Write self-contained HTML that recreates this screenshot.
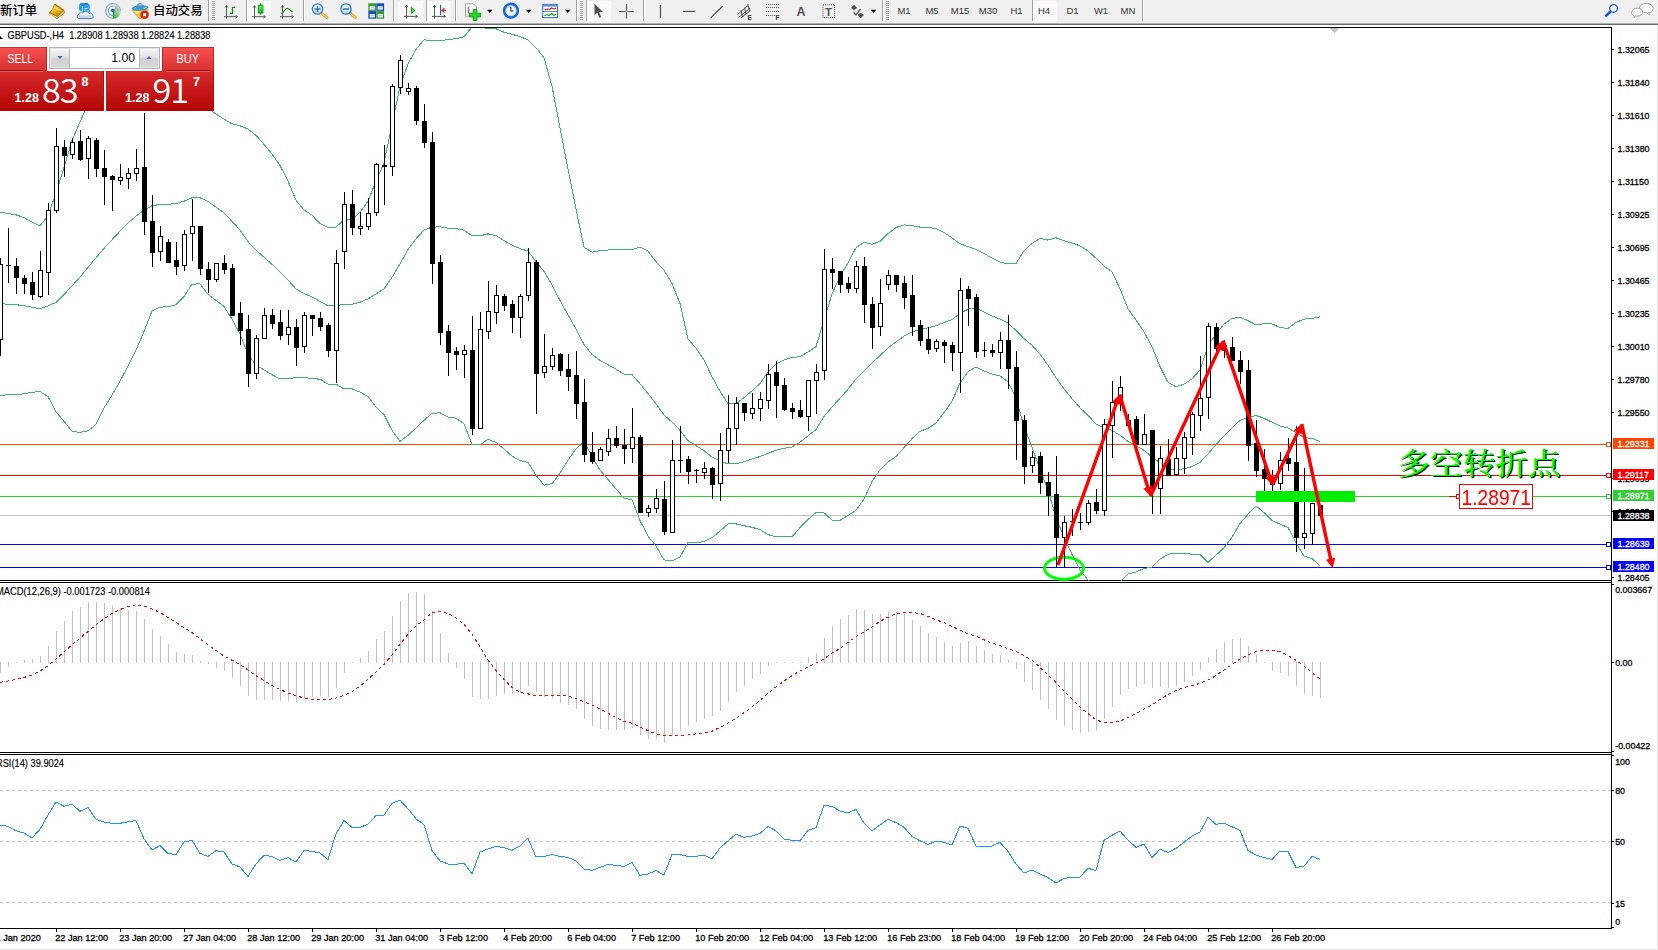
<!DOCTYPE html>
<html><head><meta charset="utf-8"><title>GBPUSD H4</title>
<style>
html,body{margin:0;padding:0;background:#fff;}
body{width:1658px;height:950px;overflow:hidden;position:relative;font-family:"Liberation Sans","Noto Sans CJK SC",sans-serif;}
#tb{position:absolute;left:0;top:0;width:1658px;height:23px;background:#f0f0f0;border-bottom:1px solid #b0b0b0;}
#tb2{position:absolute;left:0;top:24px;width:1658px;height:1px;background:#696969;}
#tb .t{position:absolute;top:3.6px;font-size:12.4px;font-weight:500;line-height:14px;color:#000;white-space:nowrap;font-family:"Liberation Sans","Noto Sans CJK SC",sans-serif;}
#tb .sep{position:absolute;top:0px;width:1px;height:21px;background:#a0a0a0;border-right:1px solid #fff;}
#tb .grip{position:absolute;top:1px;width:3px;height:20px;background:repeating-linear-gradient(#a0a0a0 0 1px,#f0f0f0 1px 2px);}
#tb .prs{position:absolute;top:1px;height:21px;background:#f9f9f9;box-sizing:border-box;}
#tb .tf{position:absolute;top:5px;font-size:9.5px;line-height:12px;color:#333;width:28px;text-align:center;}
#tb svg{position:absolute;top:0;left:0;}
#trade{position:absolute;left:0;top:47px;width:214px;height:64px;}
#trade div{position:absolute;box-sizing:border-box;}
.rb{background:linear-gradient(#f65050,#d83030);color:#fff;font-size:12.5px;text-align:center;line-height:24px;}
.pp{background:linear-gradient(#d62a2a,#b40404);color:#fff;}
.pp span{position:absolute;white-space:nowrap;}
.pp .big{font-family:"Noto Sans CJK SC","Liberation Sans",sans-serif;font-weight:350;font-size:34.3px;line-height:50px;letter-spacing:-1.2px;}
</style></head><body>
<div id="tb">
<div class="prs" style="left:247px;width:24px;"></div>
<div class="prs" style="left:398px;width:25px;"></div>
<div class="prs" style="left:427px;width:24px;"></div>
<div class="prs" style="left:587px;width:24px;"></div>
<div class="prs" style="left:1033px;width:24px;"></div>
<div class="sep" style="left:208px;"></div><div class="grip" style="left:212px;"></div>
<div class="sep" style="left:246px;"></div>
<div class="sep" style="left:303px;"></div>
<div class="sep" style="left:393px;"></div>
<div class="sep" style="left:426px;"></div>
<div class="sep" style="left:455px;"></div>
<div class="sep" style="left:576px;"></div><div class="grip" style="left:580px;"></div>
<div class="sep" style="left:586px;"></div>
<div class="sep" style="left:643px;"></div>
<div class="sep" style="left:882px;"></div><div class="grip" style="left:886px;"></div>
<div class="sep" style="left:1032px;"></div>
<div class="sep" style="left:1142px;"></div>
<span class="t" style="left:0px;">新订单</span>
<span class="t" style="left:153px;">自动交易</span>
<span class="tf" style="left:890px;">M1</span><span class="tf" style="left:918px;">M5</span><span class="tf" style="left:946px;">M15</span><span class="tf" style="left:974px;">M30</span><span class="tf" style="left:1002.5px;">H1</span><span class="tf" style="left:1030px;">H4</span><span class="tf" style="left:1058.5px;">D1</span><span class="tf" style="left:1087px;">W1</span><span class="tf" style="left:1114px;">MN</span>
<svg width="1658" height="23" viewBox="0 0 1658 23">
<defs>
<linearGradient id="gold" x1="0" y1="0" x2="1" y2="1"><stop offset="0" stop-color="#ffe25a"/><stop offset=".5" stop-color="#e8b418"/><stop offset="1" stop-color="#a86c00"/></linearGradient>
<linearGradient id="grn" x1="0" y1="0" x2="0" y2="1"><stop offset="0" stop-color="#70ff70"/><stop offset="1" stop-color="#10b020"/></linearGradient>
<linearGradient id="cloud" x1="0" y1="0" x2="0" y2="1"><stop offset="0" stop-color="#ffffff"/><stop offset="1" stop-color="#b8cce8"/></linearGradient>
<radialGradient id="lens" cx=".4" cy=".35" r=".7"><stop offset="0" stop-color="#f4fbff"/><stop offset="1" stop-color="#b4d8f4"/></radialGradient>
<linearGradient id="hat" x1="0" y1="0" x2="0" y2="1"><stop offset="0" stop-color="#8cc8f0"/><stop offset="1" stop-color="#3c84c8"/></linearGradient>
<linearGradient id="yel" x1="0" y1="0" x2="0" y2="1"><stop offset="0" stop-color="#fff080"/><stop offset="1" stop-color="#e8b020"/></linearGradient>
</defs>
<!-- gold tag -->
<path d="M54,4 L55.6,4 L64.2,10 L64.9,12.9 L57,19 L48.7,13 L52.6,8.8 Z" fill="#a86a04"/>
<path d="M57.6,16.4 L63.6,10.8 L64.3,12.8 L57,18.4 Z" fill="#d8c48c"/>
<path d="M49.5,12.9 L57.3,17 L57,18.4 L49.3,13.6 Z" fill="#f6dc70"/>
<path d="M54.6,5 L63.3,10.5 L57.5,16 L50.3,11.9 C52.6,10 53.6,7.6 54.6,5 Z" fill="url(#gold)"/>
<path d="M55,6.2 L61.5,10.4 L60.2,11.6 L54.3,8 Z" fill="#fff3a0" opacity=".55"/>
<!-- server + cloud -->
<path d="M79.1,4.4 L82.4,6.4 L82.4,11.6 L79.1,10.2 Z" fill="#00a4ff"/>
<path d="M79.1,4.2 L80.6,3.2 L87,3.1 L89.6,4.6 L82.4,6.2 Z" fill="#1a7ae4"/>
<path d="M82.6,6.3 L89.7,4.7 L89.7,12 L82.6,12 Z" fill="#1e94ff"/>
<path d="M82.5,6.2 L82.5,12" stroke="#e8f6ff" stroke-width=".7"/>
<path d="M84.2,8.6 L88.6,7.5 L88.6,8.5 L84.2,9.4 Z" fill="#eaf6ff"/>
<rect x="84" y="10" width="5" height="2" fill="#66bcff"/>
<path d="M79.3,18.6 C76.6,18.6 76.4,14.9 79,14.2 C79,12.4 81.6,11.7 82.8,13.1 C84,10.6 88.4,10.8 89.2,13.6 C90.6,12.4 93,13.4 92.6,15.2 C94,16.4 93,18.6 91.3,18.6 Z" fill="url(#cloud)" stroke="#4c6cac" stroke-width=".9"/>
<!-- signal -->
<defs><linearGradient id="sg" x1="1" y1="0" x2="0.35" y2="1"><stop offset="0" stop-color="#dcead8"/><stop offset=".6" stop-color="#8cc48c"/><stop offset="1" stop-color="#2ea42e"/></linearGradient></defs>
<path d="M113.5,10.8 L113.5,18.7 A7.9,7.9 0 0 0 116.5,3.8 Z" fill="url(#sg)" opacity=".8"/>
<g fill="none" stroke="#5682dc" stroke-width="1.1"><path d="M113,18.2 A7.4,7.4 0 0 1 113,3.4" opacity=".7"/><path d="M113,15.4 A4.6,4.6 0 0 1 113,6.2" opacity=".8"/></g>
<g fill="none" stroke="#6a94c4" stroke-width="1" opacity=".55"><path d="M113,3.4 A7.4,7.4 0 0 1 120.4,10.8"/><path d="M113,6.2 A4.6,4.6 0 0 1 117.6,10.8"/></g>
<circle cx="112.7" cy="10.5" r="1.8" fill="#2456d4"/>
<rect x="113" y="11" width="1.1" height="7.7" fill="#1ea51e"/>
<!-- autotrading -->
<path d="M132.2,10.4 L148,9.4 L141.4,18.6 L139.4,18.6 Z" fill="url(#yel)" stroke="#c89412" stroke-width=".7"/>
<ellipse cx="140.1" cy="8" rx="7.9" ry="2.2" fill="#4ea4dc" stroke="#2484b4" stroke-width=".8" transform="rotate(-5 140.1 8)"/>
<path d="M136.7,7.6 C136.4,2.4 143,2.2 143,7 C141.4,8.4 138.2,8.6 136.7,7.6 Z" fill="url(#hat)" stroke="#2484b4" stroke-width=".7"/>
<path d="M144,8.3 L147,6.9" stroke="#c8e8fa" stroke-width=".8"/>
<circle cx="144.6" cy="14.7" r="4" fill="#e42408" stroke="#b81800" stroke-width=".5"/><rect x="143.1" y="13.2" width="3" height="3" fill="#fff"/>
<!-- chart type icons -->
<g stroke="#585858" stroke-width="1" fill="none">
<path d="M226.5,6 L226.5,18.5 M224,16.7 L237,16.7"/><path d="M225.2,7.6 L226.5,5.6 L227.8,7.6 M235.6,15.4 L237.6,16.7 L235.6,18" stroke-width="1"/>
<path d="M254.5,6 L254.5,18.5 M252,16.7 L265,16.7"/><path d="M253.2,7.6 L254.5,5.6 L255.8,7.6 M263.6,15.4 L265.6,16.7 L263.6,18" stroke-width="1"/>
<path d="M282.5,6 L282.5,18.5 M280,16.7 L293,16.7"/><path d="M281.2,7.6 L282.5,5.6 L283.8,7.6 M291.6,15.4 L293.6,16.7 L291.6,18" stroke-width="1"/>
<path d="M406.5,5.5 L406.5,18.5 M404,16.4 L417,16.4"/><path d="M405.2,7.1 L406.5,5.1 L407.8,7.1 M415.6,15.1 L417.6,16.4 L415.6,17.7" stroke-width="1"/>
<path d="M434.5,5.5 L434.5,18.5 M432,16.4 L445,16.4"/><path d="M433.2,7.1 L434.5,5.1 L435.8,7.1 M443.6,15.1 L445.6,16.4 L443.6,17.7" stroke-width="1"/>
</g>
<path d="M232.5,6.9 L232.5,13.8 M232.5,7.3 L235,7.3 M230,13.4 L232.5,13.4" stroke="#1a8a1a" stroke-width="1.3" fill="none"/>
<path d="M260.6,3.3 L260.6,14.6" stroke="#0a900a" stroke-width="1.2"/><rect x="258.4" y="5.2" width="4.5" height="7.8" fill="url(#grn)" stroke="#0a900a" stroke-width=".9"/>
<path d="M281.3,13.5 C284,12.5 285.5,8.3 287.3,8.3 C289,8.3 290.5,11.3 292.8,12" stroke="#1a8a1a" stroke-width="1.2" fill="none"/>
<!-- zoom in/out -->
<path d="M321.5,13 L326.8,17.6" stroke="#d8b030" stroke-width="3" stroke-linecap="round"/><path d="M321.5,13 L326.8,17.6" stroke="#f8e080" stroke-width="1" stroke-linecap="round"/>
<circle cx="317.5" cy="9" r="5.2" fill="url(#lens)" stroke="#3a7cc8" stroke-width="1.3"/><path d="M314.5,9 L320.5,9 M317.5,6 L317.5,12" stroke="#3a80b0" stroke-width="1.6"/>
<path d="M350,13 L355.3,17.6" stroke="#d8b030" stroke-width="3" stroke-linecap="round"/><path d="M350,13 L355.3,17.6" stroke="#f8e080" stroke-width="1" stroke-linecap="round"/>
<circle cx="346" cy="9" r="5.2" fill="url(#lens)" stroke="#3a7cc8" stroke-width="1.3"/><path d="M343,9 L349,9" stroke="#3a80b0" stroke-width="1.6"/>
<!-- tile -->
<rect x="368.3" y="3.3" width="7.8" height="7.6" fill="#3a9a20"/><rect x="376.3" y="3.3" width="7.8" height="7.6" fill="#1848c0"/>
<rect x="368.3" y="11.1" width="7.8" height="7.6" fill="#1848c0"/><rect x="376.3" y="11.1" width="7.8" height="7.6" fill="#3a9a20"/>
<g fill="#eef4ff"><rect x="369.6" y="6.2" width="5.2" height="3.5"/><rect x="377.6" y="6.2" width="5.2" height="3.5"/><rect x="369.6" y="14" width="5.2" height="3.5"/><rect x="377.6" y="14" width="5.2" height="3.5"/></g>
<g fill="#90b0e0" opacity=".8"><rect x="370.6" y="7.4" width="3.2" height=".9"/><rect x="378.6" y="7.4" width="3.2" height=".9"/><rect x="370.6" y="15.2" width="3.2" height=".9"/><rect x="378.6" y="15.2" width="3.2" height=".9"/></g>
<!-- autoscroll / shift -->
<path d="M411.3,7.3 L411.3,13.5 L415,10.4 Z" fill="#50e060" stroke="#0a900a" stroke-width=".9"/>
<path d="M440.6,4.8 L440.6,15" stroke="#1a70a8" stroke-width="1.2"/><path d="M441.8,10.4 L446,10.4 M444.5,8.3 L441.9,10.4 L444.5,12.5" stroke="#d03010" stroke-width="1.2" fill="none"/>
<!-- indicators -->
<path d="M465.5,3.8 L473.5,3.8 L476.5,6.8 L476.5,16.2 L465.5,16.2 Z" fill="#fdfdfd" stroke="#909090" stroke-width=".8"/>
<path d="M469.5,7 L468.3,7 L468.3,13 L469.5,13 M468.3,10 L469.5,10" stroke="#404040" stroke-width=".8" fill="none"/>
<path d="M473.2,9.4 L476.9,9.4 L476.9,13.2 L480.6,13.2 L480.6,16.9 L476.9,16.9 L476.9,20.6 L473.2,20.6 L473.2,16.9 L469.4,16.9 L469.4,13.2 L473.2,13.2 Z" fill="#28d828" stroke="#0a8a0a" stroke-width=".8"/>
<path d="M487,9.8 L492.4,9.8 L489.7,13 Z" fill="#000"/>
<!-- clock -->
<circle cx="511" cy="10.7" r="6.8" fill="#fff" stroke="#1468d8" stroke-width="2.6"/><circle cx="511" cy="10.7" r="5.2" fill="#f4f8ff" stroke="#80a8e8" stroke-width=".6"/>
<path d="M510.8,6.8 L510.8,11 L513.6,11" stroke="#303030" stroke-width="1.1" fill="none"/>
<path d="M526,9.8 L531.4,9.8 L528.7,13 Z" fill="#000"/>
<!-- template -->
<rect x="542.8" y="4.4" width="14.8" height="13.2" fill="#fff" stroke="#3068c0" stroke-width="1"/><rect x="542.8" y="4.4" width="14.8" height="2.2" fill="#5890e0"/><rect x="542.8" y="11" width="14.8" height="1" fill="#5890e0"/>
<path d="M544.5,10 L547,9 L549.5,9.5 L551.5,8 L554,9 L556,8" stroke="#c02010" stroke-width="1.1" fill="none"/>
<path d="M544.5,15.8 L547,14.5 L549,15.5 L551.5,13.5 L554,15.3 L556,14.2" stroke="#109020" stroke-width="1.1" fill="none"/>
<path d="M565,9.8 L570.4,9.8 L567.7,13 Z" fill="#000"/>
<!-- cursor -->
<path d="M594.5,3.8 L594.5,15.3 L597.2,12.8 L599.3,17.8 L601.2,17 L599.2,12.2 L603,12 Z" fill="#505050"/>
<!-- crosshair -->
<path d="M626.5,4.2 L626.5,10.4 M626.5,12.4 L626.5,18.6 M619.2,11.5 L625.5,11.5 M627.5,11.5 L633.8,11.5" stroke="#505050" stroke-width="1"/>
<path d="M660.5,4.8 L660.5,17.9" stroke="#505050" stroke-width="1.2"/>
<path d="M683.2,11.4 L694.8,11.4" stroke="#505050" stroke-width="1.2"/>
<path d="M710.7,17.9 L722.8,6" stroke="#505050" stroke-width="1.2"/>
<!-- channel -->
<g stroke="#505050" stroke-width="1" fill="none"><path d="M737.5,14.5 L748,5.5 M738.5,17.5 L750,8 M741,18 L750.5,10.5"/><path d="M741,10 L742.5,17 M744.5,7.5 L746,14.5 M748,4 L749.5,11"/></g>
<text x="747.6" y="19.9" font-size="6.5" font-weight="bold" fill="#303030" font-family="Liberation Sans, sans-serif">E</text>
<!-- fibo -->
<g stroke="#505050" stroke-width="1" stroke-dasharray="1 1"><path d="M766,4.5 L779,4.5 M766,7.5 L779,7.5 M766,11.5 L779,11.5 M766,15.5 L775,15.5"/></g>
<text x="775.6" y="19.9" font-size="6.5" font-weight="bold" fill="#303030" font-family="Liberation Sans, sans-serif">F</text>
<text x="796.6" y="16" font-size="12.5" font-weight="bold" fill="#505050" font-family="Liberation Sans, sans-serif">A</text>
<rect x="823" y="4.8" width="11.6" height="12.8" fill="none" stroke="#505050" stroke-width="1" stroke-dasharray="1 1"/>
<text x="825" y="15.8" font-size="11.5" font-weight="bold" fill="#505050" font-family="Liberation Sans, sans-serif">T</text>
<!-- arrows -->
<path d="M854,4.8 L857,8 L854,10.2 L851,8 Z M860.7,18.2 L857.5,15 L860.7,12.8 L864,15 Z" fill="#505050"/><path d="M853.5,12.5 L856,14.8 L860.5,9" stroke="#505050" stroke-width="1.3" fill="none"/>
<path d="M870.8,9.8 L876.2,9.8 L873.5,13 Z" fill="#000"/>
<!-- search -->
<path d="M1610.3,11.7 L1606.2,15.6" stroke="#1850c8" stroke-width="2.6" stroke-linecap="round"/>
<circle cx="1613.6" cy="8.4" r="3.8" fill="#f8f8ff" stroke="#2060d8" stroke-width="1.4"/>
<!-- chat -->
<path d="M1646.2,3.4 C1655,3.4 1655,12.6 1648.5,12.6 L1649.6,14.8 L1646.5,12.7 C1637.5,12.6 1637.5,3.4 1646.2,3.4 Z" fill="#fafafa" stroke="#909090" stroke-width=".8"/>
<path d="M1637.4,8.2 C1644.2,8.2 1644.2,16 1637.8,16 L1635,16 L1634.4,17.8 L1633.6,15.6 C1630.6,14.6 1630.8,8.2 1637.4,8.2 Z" fill="#fafafa" stroke="#909090" stroke-width=".8"/>
</svg>
</div>
<div id="tb2"></div>
<svg width="1658" height="926" viewBox="0 24 1658 926" style="position:absolute;left:0;top:24px" font-family="Liberation Sans, sans-serif">
<defs><clipPath id="cm"><rect x="0" y="28" width="1611" height="553"/></clipPath></defs>
<g shape-rendering="crispEdges">
<rect x="0" y="27" width="1612" height="1" fill="#000"/>
<rect x="1611" y="27" width="1" height="902" fill="#000"/>
<rect x="0" y="580" width="1612" height="1" fill="#000"/>
<rect x="0" y="582" width="1612" height="1" fill="#000"/>
<rect x="0" y="752" width="1612" height="1" fill="#000"/>
<rect x="0" y="754" width="1612" height="1" fill="#000"/>
<rect x="0" y="928" width="1612" height="1" fill="#000"/>
<rect x="1657" y="25" width="1" height="925" fill="#e4e4e4"/>
<rect x="0" y="949" width="1658" height="1" fill="#e6e6e6"/>
</g>
<g clip-path="url(#cm)">
<g shape-rendering="crispEdges">
<rect x="0" y="444" width="1611" height="1" fill="#ff4500"/>
<rect x="0" y="475" width="1611" height="1" fill="#ff0000"/>
<rect x="0" y="496" width="1611" height="1" fill="#32cd32"/>
<rect x="0" y="515" width="1611" height="1" fill="#c0c0c0"/>
<rect x="0" y="544" width="1611" height="1" fill="#0000ff"/>
<rect x="0" y="567" width="1611" height="1" fill="#0000ff"/>
</g>
<ellipse cx="1064" cy="568.3" rx="19.5" ry="11" fill="none" stroke="#00ff00" stroke-width="3"/>
<g shape-rendering="crispEdges">
<polyline points="0.0,212.2 8.0,213.5 16.0,214.8 24.0,217.6 32.0,222.2 40.0,226.0 48.0,215.4 56.0,193.2 64.0,167.5 72.0,140.6 80.0,121.9 88.0,104.1 96.0,91.0 104.0,88.7 112.0,84.4 120.0,81.0 128.0,80.0 136.0,82.3 144.0,88.8 152.0,100.6 160.0,101.6 168.0,101.8 176.0,102.7 184.0,105.9 192.0,110.3 200.0,110.3 208.0,108.2 216.0,114.0 224.0,119.1 232.0,123.8 240.0,125.8 248.0,129.0 256.0,135.4 264.0,144.3 272.0,154.0 280.0,165.5 288.0,181.1 296.0,200.3 304.0,210.1 312.0,215.1 320.0,223.7 328.0,227.6 336.0,227.2 344.0,219.5 352.0,219.8 360.0,212.2 368.0,201.3 376.0,180.8 384.0,163.0 392.0,124.5 400.0,86.3 408.0,63.9 416.0,49.5 424.0,39.8 432.0,40.8 440.0,41.0 448.0,39.3 456.0,38.8 464.0,36.8 472.0,27.0 480.0,26.9 488.0,28.5 496.0,28.8 504.0,32.2 512.0,34.2 520.0,36.7 528.0,39.7 536.0,47.8 544.0,57.8 552.0,86.3 560.0,127.7 568.0,169.4 576.0,209.2 584.0,247.2 592.0,252.2 600.0,250.7 608.0,250.0 616.0,249.6 624.0,250.0 632.0,249.6 640.0,247.1 648.0,251.0 656.0,261.7 664.0,270.2 672.0,283.4 680.0,303.4 688.0,339.0 696.0,348.2 704.0,359.9 712.0,376.7 720.0,391.3 728.0,403.8 736.0,403.8 744.0,397.7 752.0,390.8 760.0,383.5 768.0,372.0 776.0,363.9 784.0,360.0 792.0,357.3 800.0,356.8 808.0,352.0 816.0,346.6 824.0,320.1 832.0,294.1 840.0,276.2 848.0,262.9 856.0,247.7 864.0,242.4 872.0,244.3 880.0,241.4 888.0,233.7 896.0,227.5 904.0,224.9 912.0,225.7 920.0,227.1 928.0,227.4 936.0,228.5 944.0,232.5 952.0,237.8 960.0,243.8 968.0,246.6 976.0,249.3 984.0,253.4 992.0,258.2 1000.0,262.0 1008.0,264.0 1016.0,263.6 1024.0,250.7 1032.0,243.5 1040.0,238.4 1048.0,240.1 1056.0,237.8 1064.0,240.8 1072.0,243.0 1080.0,245.9 1088.0,250.9 1096.0,258.2 1104.0,266.1 1112.0,271.9 1120.0,288.7 1128.0,308.7 1136.0,320.0 1144.0,331.8 1152.0,346.7 1160.0,366.6 1168.0,382.3 1176.0,386.8 1184.0,384.2 1192.0,378.9 1200.0,370.1 1208.0,345.7 1216.0,334.0 1224.0,324.1 1232.0,318.5 1240.0,317.2 1248.0,320.7 1256.0,324.9 1264.0,323.7 1272.0,323.9 1280.0,327.6 1288.0,328.5 1296.0,322.5 1304.0,319.1 1312.0,318.4 1320.0,316.8" fill="none" stroke="#3cb371" stroke-width="1" />
<polyline points="0.0,303.7 8.0,304.2 16.0,304.7 24.0,305.7 32.0,307.2 40.0,308.8 48.0,305.9 56.0,302.4 64.0,294.5 72.0,285.9 80.0,277.2 88.0,267.4 96.0,257.7 104.0,248.4 112.0,239.8 120.0,231.2 128.0,223.0 136.0,216.1 144.0,210.2 152.0,205.8 160.0,204.4 168.0,204.2 176.0,203.7 184.0,201.2 192.0,197.8 200.0,197.8 208.0,201.3 216.0,207.1 224.0,212.8 232.0,221.4 240.0,230.0 248.0,241.7 256.0,250.2 264.0,257.2 272.0,264.3 280.0,272.2 288.0,280.0 296.0,288.9 304.0,293.6 312.0,296.9 320.0,301.4 328.0,305.8 336.0,305.7 344.0,304.2 352.0,304.3 360.0,302.2 368.0,298.9 376.0,293.9 384.0,288.8 392.0,277.4 400.0,263.9 408.0,249.6 416.0,238.8 424.0,230.1 432.0,227.1 440.0,226.9 448.0,228.2 456.0,228.5 464.0,230.3 472.0,235.7 480.0,235.9 488.0,233.9 496.0,235.6 504.0,240.6 512.0,245.1 520.0,248.6 528.0,251.1 536.0,261.5 544.0,271.5 552.0,285.0 560.0,300.5 568.0,314.8 576.0,328.9 584.0,344.5 592.0,354.5 600.0,360.3 608.0,364.7 616.0,369.2 624.0,374.1 632.0,374.6 640.0,383.8 648.0,393.6 656.0,403.8 664.0,415.0 672.0,422.1 680.0,430.3 688.0,440.7 696.0,445.6 704.0,450.7 712.0,457.1 720.0,461.2 728.0,463.8 736.0,463.8 744.0,461.7 752.0,459.1 760.0,456.5 768.0,453.3 776.0,450.3 784.0,448.4 792.0,447.0 800.0,442.2 808.0,435.8 816.0,429.5 824.0,416.5 832.0,407.1 840.0,398.3 848.0,389.2 856.0,379.0 864.0,370.8 872.0,362.9 880.0,355.6 888.0,347.9 896.0,342.0 904.0,336.2 912.0,332.1 920.0,329.2 928.0,327.9 936.0,325.7 944.0,322.6 952.0,319.6 960.0,313.3 968.0,309.2 976.0,308.1 984.0,312.1 992.0,316.1 1000.0,318.9 1008.0,322.9 1016.0,330.6 1024.0,338.7 1032.0,345.2 1040.0,354.1 1048.0,365.1 1056.0,377.7 1064.0,389.0 1072.0,398.7 1080.0,407.8 1088.0,415.5 1096.0,423.9 1104.0,427.9 1112.0,430.4 1120.0,435.2 1128.0,441.3 1136.0,446.0 1144.0,450.2 1152.0,457.0 1160.0,462.9 1168.0,468.2 1176.0,470.1 1184.0,468.7 1192.0,466.6 1200.0,462.4 1208.0,454.0 1216.0,444.6 1224.0,435.9 1232.0,427.9 1240.0,420.4 1248.0,417.5 1256.0,415.5 1264.0,418.2 1272.0,422.2 1280.0,425.9 1288.0,428.0 1296.0,432.6 1304.0,437.6 1312.0,438.4 1320.0,441.3" fill="none" stroke="#3cb371" stroke-width="1" />
<polyline points="0.0,395.2 8.0,394.9 16.0,394.6 24.0,393.8 32.0,392.3 40.0,391.6 48.0,396.5 56.0,411.7 64.0,421.4 72.0,431.2 80.0,432.5 88.0,430.7 96.0,424.4 104.0,408.0 112.0,395.1 120.0,381.3 128.0,366.0 136.0,350.0 144.0,331.6 152.0,311.0 160.0,307.2 168.0,306.7 176.0,304.7 184.0,296.6 192.0,284.1 200.0,283.9 208.0,294.3 216.0,300.3 224.0,306.5 232.0,319.1 240.0,334.2 248.0,354.4 256.0,365.1 264.0,370.0 272.0,374.7 280.0,378.9 288.0,378.8 296.0,377.5 304.0,377.1 312.0,378.8 320.0,379.1 328.0,384.1 336.0,384.2 344.0,388.9 352.0,388.8 360.0,392.1 368.0,396.5 376.0,407.1 384.0,414.6 392.0,430.3 400.0,441.4 408.0,435.4 416.0,428.0 424.0,420.4 432.0,413.3 440.0,412.8 448.0,417.0 456.0,418.2 464.0,423.8 472.0,444.4 480.0,444.9 488.0,439.4 496.0,442.4 504.0,449.1 512.0,456.1 520.0,460.6 528.0,462.4 536.0,475.3 544.0,485.2 552.0,483.7 560.0,473.2 568.0,460.2 576.0,448.7 584.0,441.9 592.0,456.7 600.0,470.0 608.0,479.4 616.0,488.9 624.0,498.3 632.0,499.6 640.0,520.4 648.0,536.3 656.0,545.9 664.0,559.9 672.0,560.9 680.0,557.2 688.0,542.4 696.0,543.0 704.0,541.5 712.0,537.6 720.0,531.0 728.0,523.9 736.0,523.9 744.0,525.7 752.0,527.3 760.0,529.6 768.0,534.6 776.0,536.8 784.0,536.7 792.0,536.8 800.0,527.6 808.0,519.6 816.0,512.5 824.0,512.8 832.0,520.0 840.0,520.4 848.0,515.5 856.0,510.3 864.0,499.2 872.0,481.6 880.0,469.8 888.0,462.1 896.0,456.5 904.0,447.6 912.0,438.6 920.0,431.3 928.0,428.4 936.0,423.0 944.0,412.6 952.0,401.4 960.0,382.9 968.0,371.8 976.0,366.9 984.0,370.9 992.0,374.1 1000.0,375.9 1008.0,381.9 1016.0,397.7 1024.0,426.7 1032.0,446.9 1040.0,469.9 1048.0,490.1 1056.0,517.6 1064.0,537.2 1072.0,554.4 1080.0,569.8 1088.0,580.1 1096.0,589.7 1104.0,589.7 1112.0,588.9 1120.0,581.8 1128.0,574.0 1136.0,572.0 1144.0,568.5 1152.0,567.2 1160.0,559.2 1168.0,554.2 1176.0,553.5 1184.0,553.2 1192.0,554.3 1200.0,554.7 1208.0,562.3 1216.0,555.2 1224.0,547.8 1232.0,537.3 1240.0,523.5 1248.0,514.3 1256.0,506.0 1264.0,512.7 1272.0,520.6 1280.0,524.1 1288.0,527.5 1296.0,542.8 1304.0,556.2 1312.0,558.5 1320.0,565.7" fill="none" stroke="#3cb371" stroke-width="1" />
</g>
<g shape-rendering="crispEdges">
<rect x="0" y="258" width="1" height="98" fill="#000"/>
<rect x="-2" y="264" width="5" height="76" fill="#000"/>
<rect x="-1" y="265" width="3" height="74" fill="#fff"/>
<rect x="8" y="228" width="1" height="55" fill="#000"/>
<rect x="6" y="265" width="5" height="1" fill="#000"/>
<rect x="16" y="258" width="1" height="36" fill="#000"/>
<rect x="14" y="266" width="5" height="12" fill="#000"/>
<rect x="24" y="275" width="1" height="19" fill="#000"/>
<rect x="22" y="278" width="5" height="6" fill="#000"/>
<rect x="32" y="272" width="1" height="28" fill="#000"/>
<rect x="30" y="282" width="5" height="13" fill="#000"/>
<rect x="40" y="251" width="1" height="47" fill="#000"/>
<rect x="38" y="270" width="5" height="27" fill="#000"/>
<rect x="39" y="271" width="3" height="25" fill="#fff"/>
<rect x="48" y="203" width="1" height="92" fill="#000"/>
<rect x="46" y="210" width="5" height="63" fill="#000"/>
<rect x="47" y="211" width="3" height="61" fill="#fff"/>
<rect x="56" y="128" width="1" height="85" fill="#000"/>
<rect x="54" y="146" width="5" height="65" fill="#000"/>
<rect x="55" y="147" width="3" height="63" fill="#fff"/>
<rect x="64" y="140" width="1" height="37" fill="#000"/>
<rect x="62" y="147" width="5" height="9" fill="#000"/>
<rect x="72" y="138" width="1" height="21" fill="#000"/>
<rect x="70" y="142" width="5" height="13" fill="#000"/>
<rect x="71" y="143" width="3" height="11" fill="#fff"/>
<rect x="80" y="130" width="1" height="31" fill="#000"/>
<rect x="78" y="141" width="5" height="19" fill="#000"/>
<rect x="88" y="136" width="1" height="43" fill="#000"/>
<rect x="86" y="138" width="5" height="21" fill="#000"/>
<rect x="87" y="139" width="3" height="19" fill="#fff"/>
<rect x="96" y="138" width="1" height="39" fill="#000"/>
<rect x="94" y="140" width="5" height="29" fill="#000"/>
<rect x="104" y="150" width="1" height="55" fill="#000"/>
<rect x="102" y="168" width="5" height="9" fill="#000"/>
<rect x="112" y="175" width="1" height="36" fill="#000"/>
<rect x="110" y="176" width="5" height="4" fill="#000"/>
<rect x="120" y="164" width="1" height="21" fill="#000"/>
<rect x="118" y="177" width="5" height="4" fill="#000"/>
<rect x="119" y="178" width="3" height="2" fill="#fff"/>
<rect x="128" y="168" width="1" height="21" fill="#000"/>
<rect x="126" y="173" width="5" height="6" fill="#000"/>
<rect x="127" y="174" width="3" height="4" fill="#fff"/>
<rect x="136" y="149" width="1" height="32" fill="#000"/>
<rect x="134" y="168" width="5" height="6" fill="#000"/>
<rect x="135" y="169" width="3" height="4" fill="#fff"/>
<rect x="144" y="113" width="1" height="122" fill="#000"/>
<rect x="142" y="167" width="5" height="55" fill="#000"/>
<rect x="152" y="195" width="1" height="72" fill="#000"/>
<rect x="150" y="221" width="5" height="32" fill="#000"/>
<rect x="160" y="226" width="1" height="35" fill="#000"/>
<rect x="158" y="236" width="5" height="16" fill="#000"/>
<rect x="159" y="237" width="3" height="14" fill="#fff"/>
<rect x="168" y="239" width="1" height="24" fill="#000"/>
<rect x="166" y="242" width="5" height="21" fill="#000"/>
<rect x="176" y="242" width="1" height="33" fill="#000"/>
<rect x="174" y="260" width="5" height="7" fill="#000"/>
<rect x="184" y="230" width="1" height="41" fill="#000"/>
<rect x="182" y="234" width="5" height="32" fill="#000"/>
<rect x="183" y="235" width="3" height="30" fill="#fff"/>
<rect x="192" y="199" width="1" height="62" fill="#000"/>
<rect x="190" y="226" width="5" height="8" fill="#000"/>
<rect x="191" y="227" width="3" height="6" fill="#fff"/>
<rect x="200" y="226" width="1" height="49" fill="#000"/>
<rect x="198" y="226" width="5" height="43" fill="#000"/>
<rect x="208" y="262" width="1" height="31" fill="#000"/>
<rect x="206" y="269" width="5" height="11" fill="#000"/>
<rect x="216" y="263" width="1" height="19" fill="#000"/>
<rect x="214" y="263" width="5" height="17" fill="#000"/>
<rect x="215" y="264" width="3" height="15" fill="#fff"/>
<rect x="224" y="255" width="1" height="19" fill="#000"/>
<rect x="222" y="263" width="5" height="7" fill="#000"/>
<rect x="232" y="264" width="1" height="52" fill="#000"/>
<rect x="230" y="268" width="5" height="48" fill="#000"/>
<rect x="240" y="302" width="1" height="43" fill="#000"/>
<rect x="238" y="313" width="5" height="18" fill="#000"/>
<rect x="248" y="315" width="1" height="72" fill="#000"/>
<rect x="246" y="329" width="5" height="45" fill="#000"/>
<rect x="256" y="335" width="1" height="44" fill="#000"/>
<rect x="254" y="338" width="5" height="36" fill="#000"/>
<rect x="255" y="339" width="3" height="34" fill="#fff"/>
<rect x="264" y="308" width="1" height="31" fill="#000"/>
<rect x="262" y="315" width="5" height="24" fill="#000"/>
<rect x="263" y="316" width="3" height="22" fill="#fff"/>
<rect x="272" y="309" width="1" height="20" fill="#000"/>
<rect x="270" y="315" width="5" height="9" fill="#000"/>
<rect x="280" y="310" width="1" height="30" fill="#000"/>
<rect x="278" y="322" width="5" height="14" fill="#000"/>
<rect x="288" y="310" width="1" height="35" fill="#000"/>
<rect x="286" y="327" width="5" height="8" fill="#000"/>
<rect x="287" y="328" width="3" height="6" fill="#fff"/>
<rect x="296" y="319" width="1" height="47" fill="#000"/>
<rect x="294" y="327" width="5" height="21" fill="#000"/>
<rect x="304" y="312" width="1" height="41" fill="#000"/>
<rect x="302" y="315" width="5" height="32" fill="#000"/>
<rect x="303" y="316" width="3" height="30" fill="#fff"/>
<rect x="312" y="315" width="1" height="21" fill="#000"/>
<rect x="310" y="315" width="5" height="4" fill="#000"/>
<rect x="320" y="312" width="1" height="19" fill="#000"/>
<rect x="318" y="318" width="5" height="9" fill="#000"/>
<rect x="328" y="323" width="1" height="34" fill="#000"/>
<rect x="326" y="325" width="5" height="26" fill="#000"/>
<rect x="336" y="250" width="1" height="133" fill="#000"/>
<rect x="334" y="263" width="5" height="88" fill="#000"/>
<rect x="335" y="264" width="3" height="86" fill="#fff"/>
<rect x="344" y="192" width="1" height="77" fill="#000"/>
<rect x="342" y="204" width="5" height="48" fill="#000"/>
<rect x="343" y="205" width="3" height="46" fill="#fff"/>
<rect x="352" y="190" width="1" height="45" fill="#000"/>
<rect x="350" y="204" width="5" height="24" fill="#000"/>
<rect x="360" y="212" width="1" height="23" fill="#000"/>
<rect x="358" y="226" width="5" height="3" fill="#000"/>
<rect x="359" y="227" width="3" height="1" fill="#fff"/>
<rect x="368" y="198" width="1" height="32" fill="#000"/>
<rect x="366" y="213" width="5" height="14" fill="#000"/>
<rect x="367" y="214" width="3" height="12" fill="#fff"/>
<rect x="376" y="163" width="1" height="53" fill="#000"/>
<rect x="374" y="164" width="5" height="49" fill="#000"/>
<rect x="375" y="165" width="3" height="47" fill="#fff"/>
<rect x="384" y="145" width="1" height="60" fill="#000"/>
<rect x="382" y="165" width="5" height="2" fill="#000"/>
<rect x="392" y="84" width="1" height="92" fill="#000"/>
<rect x="390" y="86" width="5" height="81" fill="#000"/>
<rect x="391" y="87" width="3" height="79" fill="#fff"/>
<rect x="400" y="55" width="1" height="39" fill="#000"/>
<rect x="398" y="60" width="5" height="28" fill="#000"/>
<rect x="399" y="61" width="3" height="26" fill="#fff"/>
<rect x="408" y="83" width="1" height="12" fill="#000"/>
<rect x="406" y="88" width="5" height="4" fill="#000"/>
<rect x="407" y="89" width="3" height="2" fill="#fff"/>
<rect x="416" y="86" width="1" height="39" fill="#000"/>
<rect x="414" y="88" width="5" height="33" fill="#000"/>
<rect x="424" y="104" width="1" height="44" fill="#000"/>
<rect x="422" y="121" width="5" height="22" fill="#000"/>
<rect x="432" y="132" width="1" height="152" fill="#000"/>
<rect x="430" y="142" width="5" height="122" fill="#000"/>
<rect x="440" y="255" width="1" height="90" fill="#000"/>
<rect x="438" y="262" width="5" height="71" fill="#000"/>
<rect x="448" y="325" width="1" height="51" fill="#000"/>
<rect x="446" y="331" width="5" height="22" fill="#000"/>
<rect x="456" y="347" width="1" height="23" fill="#000"/>
<rect x="454" y="351" width="5" height="4" fill="#000"/>
<rect x="464" y="345" width="1" height="33" fill="#000"/>
<rect x="462" y="350" width="5" height="5" fill="#000"/>
<rect x="463" y="351" width="3" height="3" fill="#fff"/>
<rect x="472" y="316" width="1" height="119" fill="#000"/>
<rect x="470" y="350" width="5" height="79" fill="#000"/>
<rect x="480" y="312" width="1" height="117" fill="#000"/>
<rect x="478" y="329" width="5" height="100" fill="#000"/>
<rect x="479" y="330" width="3" height="98" fill="#fff"/>
<rect x="488" y="281" width="1" height="58" fill="#000"/>
<rect x="486" y="311" width="5" height="21" fill="#000"/>
<rect x="487" y="312" width="3" height="19" fill="#fff"/>
<rect x="496" y="285" width="1" height="39" fill="#000"/>
<rect x="494" y="295" width="5" height="18" fill="#000"/>
<rect x="495" y="296" width="3" height="16" fill="#fff"/>
<rect x="504" y="294" width="1" height="17" fill="#000"/>
<rect x="502" y="296" width="5" height="10" fill="#000"/>
<rect x="512" y="300" width="1" height="33" fill="#000"/>
<rect x="510" y="304" width="5" height="14" fill="#000"/>
<rect x="520" y="294" width="1" height="44" fill="#000"/>
<rect x="518" y="296" width="5" height="22" fill="#000"/>
<rect x="519" y="297" width="3" height="20" fill="#fff"/>
<rect x="528" y="248" width="1" height="53" fill="#000"/>
<rect x="526" y="262" width="5" height="34" fill="#000"/>
<rect x="527" y="263" width="3" height="32" fill="#fff"/>
<rect x="536" y="260" width="1" height="154" fill="#000"/>
<rect x="534" y="262" width="5" height="112" fill="#000"/>
<rect x="544" y="334" width="1" height="44" fill="#000"/>
<rect x="542" y="366" width="5" height="7" fill="#000"/>
<rect x="543" y="367" width="3" height="5" fill="#fff"/>
<rect x="552" y="348" width="1" height="22" fill="#000"/>
<rect x="550" y="355" width="5" height="12" fill="#000"/>
<rect x="551" y="356" width="3" height="10" fill="#fff"/>
<rect x="560" y="353" width="1" height="23" fill="#000"/>
<rect x="558" y="354" width="5" height="17" fill="#000"/>
<rect x="568" y="354" width="1" height="37" fill="#000"/>
<rect x="566" y="369" width="5" height="8" fill="#000"/>
<rect x="576" y="351" width="1" height="68" fill="#000"/>
<rect x="574" y="375" width="5" height="29" fill="#000"/>
<rect x="584" y="379" width="1" height="83" fill="#000"/>
<rect x="582" y="402" width="5" height="53" fill="#000"/>
<rect x="592" y="432" width="1" height="32" fill="#000"/>
<rect x="590" y="452" width="5" height="10" fill="#000"/>
<rect x="600" y="447" width="1" height="14" fill="#000"/>
<rect x="598" y="449" width="5" height="12" fill="#000"/>
<rect x="599" y="450" width="3" height="10" fill="#fff"/>
<rect x="608" y="429" width="1" height="27" fill="#000"/>
<rect x="606" y="438" width="5" height="14" fill="#000"/>
<rect x="607" y="439" width="3" height="12" fill="#fff"/>
<rect x="616" y="426" width="1" height="22" fill="#000"/>
<rect x="614" y="438" width="5" height="8" fill="#000"/>
<rect x="624" y="429" width="1" height="35" fill="#000"/>
<rect x="622" y="445" width="5" height="4" fill="#000"/>
<rect x="632" y="408" width="1" height="55" fill="#000"/>
<rect x="630" y="437" width="5" height="12" fill="#000"/>
<rect x="631" y="438" width="3" height="10" fill="#fff"/>
<rect x="640" y="435" width="1" height="78" fill="#000"/>
<rect x="638" y="437" width="5" height="76" fill="#000"/>
<rect x="648" y="505" width="1" height="12" fill="#000"/>
<rect x="646" y="508" width="5" height="5" fill="#000"/>
<rect x="647" y="509" width="3" height="3" fill="#fff"/>
<rect x="656" y="489" width="1" height="24" fill="#000"/>
<rect x="654" y="498" width="5" height="11" fill="#000"/>
<rect x="655" y="499" width="3" height="9" fill="#fff"/>
<rect x="664" y="481" width="1" height="54" fill="#000"/>
<rect x="662" y="499" width="5" height="33" fill="#000"/>
<rect x="672" y="440" width="1" height="93" fill="#000"/>
<rect x="670" y="460" width="5" height="73" fill="#000"/>
<rect x="671" y="461" width="3" height="71" fill="#fff"/>
<rect x="680" y="426" width="1" height="47" fill="#000"/>
<rect x="678" y="460" width="5" height="1" fill="#000"/>
<rect x="688" y="456" width="1" height="28" fill="#000"/>
<rect x="686" y="459" width="5" height="13" fill="#000"/>
<rect x="696" y="469" width="1" height="14" fill="#000"/>
<rect x="694" y="470" width="5" height="1" fill="#000"/>
<rect x="704" y="462" width="1" height="17" fill="#000"/>
<rect x="702" y="468" width="5" height="5" fill="#000"/>
<rect x="703" y="469" width="3" height="3" fill="#fff"/>
<rect x="712" y="467" width="1" height="32" fill="#000"/>
<rect x="710" y="468" width="5" height="17" fill="#000"/>
<rect x="720" y="433" width="1" height="68" fill="#000"/>
<rect x="718" y="450" width="5" height="34" fill="#000"/>
<rect x="719" y="451" width="3" height="32" fill="#fff"/>
<rect x="728" y="395" width="1" height="68" fill="#000"/>
<rect x="726" y="428" width="5" height="23" fill="#000"/>
<rect x="727" y="429" width="3" height="21" fill="#fff"/>
<rect x="736" y="397" width="1" height="48" fill="#000"/>
<rect x="734" y="403" width="5" height="26" fill="#000"/>
<rect x="735" y="404" width="3" height="24" fill="#fff"/>
<rect x="744" y="403" width="1" height="18" fill="#000"/>
<rect x="742" y="403" width="5" height="10" fill="#000"/>
<rect x="752" y="393" width="1" height="26" fill="#000"/>
<rect x="750" y="408" width="5" height="6" fill="#000"/>
<rect x="751" y="409" width="3" height="4" fill="#fff"/>
<rect x="760" y="392" width="1" height="29" fill="#000"/>
<rect x="758" y="399" width="5" height="10" fill="#000"/>
<rect x="759" y="400" width="3" height="8" fill="#fff"/>
<rect x="768" y="364" width="1" height="45" fill="#000"/>
<rect x="766" y="374" width="5" height="27" fill="#000"/>
<rect x="767" y="375" width="3" height="25" fill="#fff"/>
<rect x="776" y="361" width="1" height="57" fill="#000"/>
<rect x="774" y="372" width="5" height="14" fill="#000"/>
<rect x="784" y="378" width="1" height="33" fill="#000"/>
<rect x="782" y="385" width="5" height="25" fill="#000"/>
<rect x="792" y="403" width="1" height="16" fill="#000"/>
<rect x="790" y="408" width="5" height="4" fill="#000"/>
<rect x="800" y="400" width="1" height="18" fill="#000"/>
<rect x="798" y="410" width="5" height="7" fill="#000"/>
<rect x="808" y="380" width="1" height="51" fill="#000"/>
<rect x="806" y="380" width="5" height="37" fill="#000"/>
<rect x="807" y="381" width="3" height="35" fill="#fff"/>
<rect x="816" y="364" width="1" height="50" fill="#000"/>
<rect x="814" y="372" width="5" height="9" fill="#000"/>
<rect x="815" y="373" width="3" height="7" fill="#fff"/>
<rect x="824" y="249" width="1" height="131" fill="#000"/>
<rect x="822" y="269" width="5" height="102" fill="#000"/>
<rect x="823" y="270" width="3" height="100" fill="#fff"/>
<rect x="832" y="258" width="1" height="31" fill="#000"/>
<rect x="830" y="269" width="5" height="4" fill="#000"/>
<rect x="840" y="271" width="1" height="22" fill="#000"/>
<rect x="838" y="271" width="5" height="14" fill="#000"/>
<rect x="848" y="277" width="1" height="16" fill="#000"/>
<rect x="846" y="283" width="5" height="6" fill="#000"/>
<rect x="856" y="261" width="1" height="32" fill="#000"/>
<rect x="854" y="266" width="5" height="23" fill="#000"/>
<rect x="855" y="267" width="3" height="21" fill="#fff"/>
<rect x="864" y="257" width="1" height="66" fill="#000"/>
<rect x="862" y="266" width="5" height="39" fill="#000"/>
<rect x="872" y="297" width="1" height="52" fill="#000"/>
<rect x="870" y="304" width="5" height="24" fill="#000"/>
<rect x="880" y="279" width="1" height="57" fill="#000"/>
<rect x="878" y="303" width="5" height="24" fill="#000"/>
<rect x="879" y="304" width="3" height="22" fill="#fff"/>
<rect x="888" y="270" width="1" height="20" fill="#000"/>
<rect x="886" y="275" width="5" height="10" fill="#000"/>
<rect x="887" y="276" width="3" height="8" fill="#fff"/>
<rect x="896" y="275" width="1" height="17" fill="#000"/>
<rect x="894" y="275" width="5" height="10" fill="#000"/>
<rect x="904" y="276" width="1" height="33" fill="#000"/>
<rect x="902" y="283" width="5" height="15" fill="#000"/>
<rect x="912" y="275" width="1" height="61" fill="#000"/>
<rect x="910" y="295" width="5" height="32" fill="#000"/>
<rect x="920" y="320" width="1" height="26" fill="#000"/>
<rect x="918" y="325" width="5" height="16" fill="#000"/>
<rect x="928" y="327" width="1" height="27" fill="#000"/>
<rect x="926" y="339" width="5" height="11" fill="#000"/>
<rect x="936" y="339" width="1" height="13" fill="#000"/>
<rect x="934" y="341" width="5" height="8" fill="#000"/>
<rect x="935" y="342" width="3" height="6" fill="#fff"/>
<rect x="944" y="340" width="1" height="23" fill="#000"/>
<rect x="942" y="342" width="5" height="4" fill="#000"/>
<rect x="952" y="342" width="1" height="29" fill="#000"/>
<rect x="950" y="345" width="5" height="8" fill="#000"/>
<rect x="960" y="278" width="1" height="115" fill="#000"/>
<rect x="958" y="290" width="5" height="63" fill="#000"/>
<rect x="959" y="291" width="3" height="61" fill="#fff"/>
<rect x="968" y="286" width="1" height="40" fill="#000"/>
<rect x="966" y="289" width="5" height="10" fill="#000"/>
<rect x="976" y="294" width="1" height="64" fill="#000"/>
<rect x="974" y="297" width="5" height="55" fill="#000"/>
<rect x="984" y="342" width="1" height="15" fill="#000"/>
<rect x="982" y="350" width="5" height="1" fill="#000"/>
<rect x="992" y="344" width="1" height="13" fill="#000"/>
<rect x="990" y="350" width="5" height="3" fill="#000"/>
<rect x="1000" y="332" width="1" height="37" fill="#000"/>
<rect x="998" y="340" width="5" height="13" fill="#000"/>
<rect x="999" y="341" width="3" height="11" fill="#fff"/>
<rect x="1008" y="315" width="1" height="74" fill="#000"/>
<rect x="1006" y="340" width="5" height="29" fill="#000"/>
<rect x="1016" y="351" width="1" height="109" fill="#000"/>
<rect x="1014" y="367" width="5" height="54" fill="#000"/>
<rect x="1024" y="415" width="1" height="69" fill="#000"/>
<rect x="1022" y="420" width="5" height="47" fill="#000"/>
<rect x="1032" y="451" width="1" height="22" fill="#000"/>
<rect x="1030" y="457" width="5" height="9" fill="#000"/>
<rect x="1031" y="458" width="3" height="7" fill="#fff"/>
<rect x="1040" y="452" width="1" height="42" fill="#000"/>
<rect x="1038" y="456" width="5" height="27" fill="#000"/>
<rect x="1048" y="472" width="1" height="44" fill="#000"/>
<rect x="1046" y="482" width="5" height="14" fill="#000"/>
<rect x="1056" y="456" width="1" height="112" fill="#000"/>
<rect x="1054" y="494" width="5" height="44" fill="#000"/>
<rect x="1064" y="516" width="1" height="52" fill="#000"/>
<rect x="1062" y="522" width="5" height="16" fill="#000"/>
<rect x="1063" y="523" width="3" height="14" fill="#fff"/>
<rect x="1072" y="509" width="1" height="27" fill="#000"/>
<rect x="1070" y="521" width="5" height="1" fill="#000"/>
<rect x="1080" y="513" width="1" height="17" fill="#000"/>
<rect x="1078" y="522" width="5" height="1" fill="#000"/>
<rect x="1088" y="500" width="1" height="25" fill="#000"/>
<rect x="1086" y="503" width="5" height="20" fill="#000"/>
<rect x="1087" y="504" width="3" height="18" fill="#fff"/>
<rect x="1096" y="489" width="1" height="25" fill="#000"/>
<rect x="1094" y="502" width="5" height="9" fill="#000"/>
<rect x="1104" y="419" width="1" height="97" fill="#000"/>
<rect x="1102" y="424" width="5" height="87" fill="#000"/>
<rect x="1103" y="425" width="3" height="85" fill="#fff"/>
<rect x="1112" y="381" width="1" height="77" fill="#000"/>
<rect x="1110" y="402" width="5" height="24" fill="#000"/>
<rect x="1111" y="403" width="3" height="22" fill="#fff"/>
<rect x="1120" y="376" width="1" height="35" fill="#000"/>
<rect x="1118" y="387" width="5" height="16" fill="#000"/>
<rect x="1119" y="388" width="3" height="14" fill="#fff"/>
<rect x="1128" y="414" width="1" height="12" fill="#000"/>
<rect x="1126" y="420" width="5" height="6" fill="#000"/>
<rect x="1127" y="421" width="3" height="4" fill="#fff"/>
<rect x="1136" y="416" width="1" height="29" fill="#000"/>
<rect x="1134" y="419" width="5" height="26" fill="#000"/>
<rect x="1144" y="414" width="1" height="31" fill="#000"/>
<rect x="1142" y="434" width="5" height="11" fill="#000"/>
<rect x="1143" y="435" width="3" height="9" fill="#fff"/>
<rect x="1152" y="430" width="1" height="84" fill="#000"/>
<rect x="1150" y="430" width="5" height="59" fill="#000"/>
<rect x="1160" y="446" width="1" height="68" fill="#000"/>
<rect x="1158" y="458" width="5" height="31" fill="#000"/>
<rect x="1159" y="459" width="3" height="29" fill="#fff"/>
<rect x="1168" y="439" width="1" height="37" fill="#000"/>
<rect x="1166" y="459" width="5" height="17" fill="#000"/>
<rect x="1176" y="447" width="1" height="29" fill="#000"/>
<rect x="1174" y="458" width="5" height="17" fill="#000"/>
<rect x="1175" y="459" width="3" height="15" fill="#fff"/>
<rect x="1184" y="432" width="1" height="42" fill="#000"/>
<rect x="1182" y="437" width="5" height="22" fill="#000"/>
<rect x="1183" y="438" width="3" height="20" fill="#fff"/>
<rect x="1192" y="412" width="1" height="43" fill="#000"/>
<rect x="1190" y="414" width="5" height="24" fill="#000"/>
<rect x="1191" y="415" width="3" height="22" fill="#fff"/>
<rect x="1200" y="356" width="1" height="75" fill="#000"/>
<rect x="1198" y="398" width="5" height="18" fill="#000"/>
<rect x="1199" y="399" width="3" height="16" fill="#fff"/>
<rect x="1208" y="323" width="1" height="96" fill="#000"/>
<rect x="1206" y="326" width="5" height="72" fill="#000"/>
<rect x="1207" y="327" width="3" height="70" fill="#fff"/>
<rect x="1216" y="323" width="1" height="28" fill="#000"/>
<rect x="1214" y="327" width="5" height="22" fill="#000"/>
<rect x="1224" y="340" width="1" height="18" fill="#000"/>
<rect x="1222" y="345" width="5" height="6" fill="#000"/>
<rect x="1232" y="337" width="1" height="24" fill="#000"/>
<rect x="1230" y="347" width="5" height="14" fill="#000"/>
<rect x="1240" y="351" width="1" height="33" fill="#000"/>
<rect x="1238" y="360" width="5" height="12" fill="#000"/>
<rect x="1248" y="360" width="1" height="101" fill="#000"/>
<rect x="1246" y="370" width="5" height="76" fill="#000"/>
<rect x="1256" y="420" width="1" height="57" fill="#000"/>
<rect x="1254" y="443" width="5" height="28" fill="#000"/>
<rect x="1264" y="449" width="1" height="42" fill="#000"/>
<rect x="1262" y="469" width="5" height="10" fill="#000"/>
<rect x="1272" y="470" width="1" height="21" fill="#000"/>
<rect x="1270" y="477" width="5" height="8" fill="#000"/>
<rect x="1280" y="452" width="1" height="38" fill="#000"/>
<rect x="1278" y="460" width="5" height="24" fill="#000"/>
<rect x="1279" y="461" width="3" height="22" fill="#fff"/>
<rect x="1288" y="438" width="1" height="33" fill="#000"/>
<rect x="1286" y="458" width="5" height="6" fill="#000"/>
<rect x="1296" y="426" width="1" height="126" fill="#000"/>
<rect x="1294" y="462" width="5" height="76" fill="#000"/>
<rect x="1304" y="468" width="1" height="81" fill="#000"/>
<rect x="1302" y="533" width="5" height="5" fill="#000"/>
<rect x="1303" y="534" width="3" height="3" fill="#fff"/>
<rect x="1312" y="503" width="1" height="42" fill="#000"/>
<rect x="1310" y="503" width="5" height="31" fill="#000"/>
<rect x="1311" y="504" width="3" height="29" fill="#fff"/>
<rect x="1320" y="505" width="1" height="11" fill="#000"/>
<rect x="1318" y="505" width="5" height="11" fill="#000"/>
</g>
<rect x="1256" y="491" width="99" height="11" fill="#00ee00" shape-rendering="crispEdges"/>
<line x1="1058.0" y1="565.0" x2="1117.1" y2="401.5" stroke="#ff0000" stroke-width="3.4"/><polygon points="1119.7,394.4 1120.9,404.9 1112.0,401.7" fill="#ff0000"/>
<line x1="1119.7" y1="394.4" x2="1148.3" y2="489.0" stroke="#ff0000" stroke-width="3.4"/><polygon points="1150.5,496.2 1143.3,488.5 1152.2,485.7" fill="#ff0000"/>
<line x1="1150.5" y1="496.2" x2="1219.8" y2="347.4" stroke="#ff0000" stroke-width="3.4"/><polygon points="1223.0,340.6 1223.2,351.2 1214.7,347.2" fill="#ff0000"/>
<line x1="1223.0" y1="340.6" x2="1270.1" y2="477.9" stroke="#ff0000" stroke-width="3.4"/><polygon points="1272.5,485.0 1265.0,477.5 1273.9,474.5" fill="#ff0000"/>
<line x1="1272.5" y1="485.0" x2="1298.6" y2="430.8" stroke="#ff0000" stroke-width="3.4"/><polygon points="1301.8,424.0 1301.9,434.6 1293.5,430.5" fill="#ff0000"/>
<line x1="1301.8" y1="424.0" x2="1331.0" y2="560.7" stroke="#ff0000" stroke-width="3.4"/><polygon points="1332.6,568.0 1326.0,559.7 1335.2,557.7" fill="#ff0000"/>
<text x="1397.5" y="474" font-family="Noto Serif CJK SC, serif" font-weight="500" font-size="30" fill="#001000" textLength="163" lengthAdjust="spacingAndGlyphs" transform="translate(1.3,1.3)">多空转折点</text>
<text x="1397.5" y="474" font-family="Noto Serif CJK SC, serif" font-weight="500" font-size="30" fill="#00ff00" textLength="163" lengthAdjust="spacingAndGlyphs">多空转折点</text>
<g shape-rendering="crispEdges"><rect x="1449" y="496" width="8" height="1" fill="#ff0000"/><rect x="1456.5" y="494.5" width="3" height="4" fill="#fff" stroke="#ff0000"/>
<rect x="1459.5" y="484.5" width="73" height="24" fill="#fff" stroke="#ff0000"/></g>
<text x="1461.5" y="504.7" font-size="22.5" fill="#ff0000" textLength="69.5" lengthAdjust="spacingAndGlyphs">1.28971</text>
</g>
<g shape-rendering="crispEdges" fill="#c0c0c0"><rect x="1330" y="28" width="9" height="1"/><rect x="1331" y="29" width="7" height="1"/><rect x="1332" y="30" width="5" height="1"/><rect x="1333" y="31" width="3" height="1"/><rect x="1334" y="32" width="1" height="1"/></g>
<path d="M0,39 L3,39 L0,36 Z" fill="#000"/>
<text x="7.5" y="39" font-size="10.3" fill="#000" stroke="#000" stroke-width=".15" textLength="203" lengthAdjust="spacingAndGlyphs" xml:space="preserve">GBPUSD-,H4  1.28908 1.28938 1.28824 1.28838</text>
<g shape-rendering="crispEdges">
<rect x="0" y="662" width="1" height="11" fill="#c0c0c0"/>
<rect x="8" y="662" width="1" height="5" fill="#c0c0c0"/>
<rect x="16" y="662" width="1" height="1" fill="#c0c0c0"/>
<rect x="24" y="660" width="1" height="3" fill="#c0c0c0"/>
<rect x="32" y="659" width="1" height="4" fill="#c0c0c0"/>
<rect x="40" y="656" width="1" height="7" fill="#c0c0c0"/>
<rect x="48" y="646" width="1" height="17" fill="#c0c0c0"/>
<rect x="56" y="631" width="1" height="32" fill="#c0c0c0"/>
<rect x="64" y="621" width="1" height="42" fill="#c0c0c0"/>
<rect x="72" y="611" width="1" height="52" fill="#c0c0c0"/>
<rect x="80" y="607" width="1" height="56" fill="#c0c0c0"/>
<rect x="88" y="602" width="1" height="61" fill="#c0c0c0"/>
<rect x="96" y="602" width="1" height="61" fill="#c0c0c0"/>
<rect x="104" y="603" width="1" height="60" fill="#c0c0c0"/>
<rect x="112" y="606" width="1" height="57" fill="#c0c0c0"/>
<rect x="120" y="608" width="1" height="55" fill="#c0c0c0"/>
<rect x="128" y="610" width="1" height="53" fill="#c0c0c0"/>
<rect x="136" y="611" width="1" height="52" fill="#c0c0c0"/>
<rect x="144" y="619" width="1" height="44" fill="#c0c0c0"/>
<rect x="152" y="629" width="1" height="34" fill="#c0c0c0"/>
<rect x="160" y="636" width="1" height="27" fill="#c0c0c0"/>
<rect x="168" y="644" width="1" height="19" fill="#c0c0c0"/>
<rect x="176" y="652" width="1" height="11" fill="#c0c0c0"/>
<rect x="184" y="654" width="1" height="9" fill="#c0c0c0"/>
<rect x="192" y="655" width="1" height="8" fill="#c0c0c0"/>
<rect x="200" y="661" width="1" height="2" fill="#c0c0c0"/>
<rect x="208" y="662" width="1" height="2" fill="#c0c0c0"/>
<rect x="216" y="662" width="1" height="6" fill="#c0c0c0"/>
<rect x="224" y="662" width="1" height="9" fill="#c0c0c0"/>
<rect x="232" y="662" width="1" height="16" fill="#c0c0c0"/>
<rect x="240" y="662" width="1" height="24" fill="#c0c0c0"/>
<rect x="248" y="662" width="1" height="34" fill="#c0c0c0"/>
<rect x="256" y="662" width="1" height="38" fill="#c0c0c0"/>
<rect x="264" y="662" width="1" height="38" fill="#c0c0c0"/>
<rect x="272" y="662" width="1" height="38" fill="#c0c0c0"/>
<rect x="280" y="662" width="1" height="39" fill="#c0c0c0"/>
<rect x="288" y="662" width="1" height="39" fill="#c0c0c0"/>
<rect x="296" y="662" width="1" height="40" fill="#c0c0c0"/>
<rect x="304" y="662" width="1" height="37" fill="#c0c0c0"/>
<rect x="312" y="662" width="1" height="35" fill="#c0c0c0"/>
<rect x="320" y="662" width="1" height="34" fill="#c0c0c0"/>
<rect x="328" y="662" width="1" height="35" fill="#c0c0c0"/>
<rect x="336" y="662" width="1" height="26" fill="#c0c0c0"/>
<rect x="344" y="662" width="1" height="11" fill="#c0c0c0"/>
<rect x="352" y="662" width="1" height="1" fill="#c0c0c0"/>
<rect x="360" y="658" width="1" height="5" fill="#c0c0c0"/>
<rect x="368" y="651" width="1" height="12" fill="#c0c0c0"/>
<rect x="376" y="639" width="1" height="24" fill="#c0c0c0"/>
<rect x="384" y="631" width="1" height="32" fill="#c0c0c0"/>
<rect x="392" y="616" width="1" height="47" fill="#c0c0c0"/>
<rect x="400" y="601" width="1" height="62" fill="#c0c0c0"/>
<rect x="408" y="593" width="1" height="70" fill="#c0c0c0"/>
<rect x="416" y="592" width="1" height="71" fill="#c0c0c0"/>
<rect x="424" y="594" width="1" height="69" fill="#c0c0c0"/>
<rect x="432" y="611" width="1" height="52" fill="#c0c0c0"/>
<rect x="440" y="633" width="1" height="30" fill="#c0c0c0"/>
<rect x="448" y="653" width="1" height="10" fill="#c0c0c0"/>
<rect x="456" y="662" width="1" height="6" fill="#c0c0c0"/>
<rect x="464" y="662" width="1" height="17" fill="#c0c0c0"/>
<rect x="472" y="662" width="1" height="35" fill="#c0c0c0"/>
<rect x="480" y="662" width="1" height="37" fill="#c0c0c0"/>
<rect x="488" y="662" width="1" height="37" fill="#c0c0c0"/>
<rect x="496" y="662" width="1" height="34" fill="#c0c0c0"/>
<rect x="504" y="662" width="1" height="32" fill="#c0c0c0"/>
<rect x="512" y="662" width="1" height="32" fill="#c0c0c0"/>
<rect x="520" y="662" width="1" height="31" fill="#c0c0c0"/>
<rect x="528" y="662" width="1" height="24" fill="#c0c0c0"/>
<rect x="536" y="662" width="1" height="30" fill="#c0c0c0"/>
<rect x="544" y="662" width="1" height="35" fill="#c0c0c0"/>
<rect x="552" y="662" width="1" height="37" fill="#c0c0c0"/>
<rect x="560" y="662" width="1" height="41" fill="#c0c0c0"/>
<rect x="568" y="662" width="1" height="43" fill="#c0c0c0"/>
<rect x="576" y="662" width="1" height="47" fill="#c0c0c0"/>
<rect x="584" y="662" width="1" height="57" fill="#c0c0c0"/>
<rect x="592" y="662" width="1" height="64" fill="#c0c0c0"/>
<rect x="600" y="662" width="1" height="67" fill="#c0c0c0"/>
<rect x="608" y="662" width="1" height="68" fill="#c0c0c0"/>
<rect x="616" y="662" width="1" height="68" fill="#c0c0c0"/>
<rect x="624" y="662" width="1" height="68" fill="#c0c0c0"/>
<rect x="632" y="662" width="1" height="66" fill="#c0c0c0"/>
<rect x="640" y="662" width="1" height="73" fill="#c0c0c0"/>
<rect x="648" y="662" width="1" height="77" fill="#c0c0c0"/>
<rect x="656" y="662" width="1" height="77" fill="#c0c0c0"/>
<rect x="664" y="662" width="1" height="81" fill="#c0c0c0"/>
<rect x="672" y="662" width="1" height="73" fill="#c0c0c0"/>
<rect x="680" y="662" width="1" height="69" fill="#c0c0c0"/>
<rect x="688" y="662" width="1" height="64" fill="#c0c0c0"/>
<rect x="696" y="662" width="1" height="60" fill="#c0c0c0"/>
<rect x="704" y="662" width="1" height="57" fill="#c0c0c0"/>
<rect x="712" y="662" width="1" height="54" fill="#c0c0c0"/>
<rect x="720" y="662" width="1" height="49" fill="#c0c0c0"/>
<rect x="728" y="662" width="1" height="40" fill="#c0c0c0"/>
<rect x="736" y="662" width="1" height="30" fill="#c0c0c0"/>
<rect x="744" y="662" width="1" height="24" fill="#c0c0c0"/>
<rect x="752" y="662" width="1" height="17" fill="#c0c0c0"/>
<rect x="760" y="662" width="1" height="12" fill="#c0c0c0"/>
<rect x="768" y="662" width="1" height="4" fill="#c0c0c0"/>
<rect x="776" y="662" width="1" height="1" fill="#c0c0c0"/>
<rect x="784" y="662" width="1" height="1" fill="#c0c0c0"/>
<rect x="792" y="662" width="1" height="1" fill="#c0c0c0"/>
<rect x="800" y="662" width="1" height="1" fill="#c0c0c0"/>
<rect x="808" y="657" width="1" height="6" fill="#c0c0c0"/>
<rect x="816" y="653" width="1" height="10" fill="#c0c0c0"/>
<rect x="824" y="638" width="1" height="25" fill="#c0c0c0"/>
<rect x="832" y="626" width="1" height="37" fill="#c0c0c0"/>
<rect x="840" y="619" width="1" height="44" fill="#c0c0c0"/>
<rect x="848" y="615" width="1" height="48" fill="#c0c0c0"/>
<rect x="856" y="609" width="1" height="54" fill="#c0c0c0"/>
<rect x="864" y="610" width="1" height="53" fill="#c0c0c0"/>
<rect x="872" y="614" width="1" height="49" fill="#c0c0c0"/>
<rect x="880" y="614" width="1" height="49" fill="#c0c0c0"/>
<rect x="888" y="612" width="1" height="51" fill="#c0c0c0"/>
<rect x="896" y="612" width="1" height="51" fill="#c0c0c0"/>
<rect x="904" y="614" width="1" height="49" fill="#c0c0c0"/>
<rect x="912" y="620" width="1" height="43" fill="#c0c0c0"/>
<rect x="920" y="626" width="1" height="37" fill="#c0c0c0"/>
<rect x="928" y="633" width="1" height="30" fill="#c0c0c0"/>
<rect x="936" y="637" width="1" height="26" fill="#c0c0c0"/>
<rect x="944" y="642" width="1" height="21" fill="#c0c0c0"/>
<rect x="952" y="646" width="1" height="17" fill="#c0c0c0"/>
<rect x="960" y="643" width="1" height="20" fill="#c0c0c0"/>
<rect x="968" y="641" width="1" height="22" fill="#c0c0c0"/>
<rect x="976" y="646" width="1" height="17" fill="#c0c0c0"/>
<rect x="984" y="650" width="1" height="13" fill="#c0c0c0"/>
<rect x="992" y="654" width="1" height="9" fill="#c0c0c0"/>
<rect x="1000" y="655" width="1" height="8" fill="#c0c0c0"/>
<rect x="1008" y="660" width="1" height="3" fill="#c0c0c0"/>
<rect x="1016" y="662" width="1" height="7" fill="#c0c0c0"/>
<rect x="1024" y="662" width="1" height="20" fill="#c0c0c0"/>
<rect x="1032" y="662" width="1" height="28" fill="#c0c0c0"/>
<rect x="1040" y="662" width="1" height="38" fill="#c0c0c0"/>
<rect x="1048" y="662" width="1" height="47" fill="#c0c0c0"/>
<rect x="1056" y="662" width="1" height="58" fill="#c0c0c0"/>
<rect x="1064" y="662" width="1" height="64" fill="#c0c0c0"/>
<rect x="1072" y="662" width="1" height="68" fill="#c0c0c0"/>
<rect x="1080" y="662" width="1" height="71" fill="#c0c0c0"/>
<rect x="1088" y="662" width="1" height="70" fill="#c0c0c0"/>
<rect x="1096" y="662" width="1" height="69" fill="#c0c0c0"/>
<rect x="1104" y="662" width="1" height="57" fill="#c0c0c0"/>
<rect x="1112" y="662" width="1" height="45" fill="#c0c0c0"/>
<rect x="1120" y="662" width="1" height="33" fill="#c0c0c0"/>
<rect x="1128" y="662" width="1" height="27" fill="#c0c0c0"/>
<rect x="1136" y="662" width="1" height="25" fill="#c0c0c0"/>
<rect x="1144" y="662" width="1" height="22" fill="#c0c0c0"/>
<rect x="1152" y="662" width="1" height="26" fill="#c0c0c0"/>
<rect x="1160" y="662" width="1" height="25" fill="#c0c0c0"/>
<rect x="1168" y="662" width="1" height="26" fill="#c0c0c0"/>
<rect x="1176" y="662" width="1" height="24" fill="#c0c0c0"/>
<rect x="1184" y="662" width="1" height="20" fill="#c0c0c0"/>
<rect x="1192" y="662" width="1" height="14" fill="#c0c0c0"/>
<rect x="1200" y="662" width="1" height="8" fill="#c0c0c0"/>
<rect x="1208" y="657" width="1" height="6" fill="#c0c0c0"/>
<rect x="1216" y="649" width="1" height="14" fill="#c0c0c0"/>
<rect x="1224" y="642" width="1" height="21" fill="#c0c0c0"/>
<rect x="1232" y="639" width="1" height="24" fill="#c0c0c0"/>
<rect x="1240" y="638" width="1" height="25" fill="#c0c0c0"/>
<rect x="1248" y="646" width="1" height="17" fill="#c0c0c0"/>
<rect x="1256" y="655" width="1" height="8" fill="#c0c0c0"/>
<rect x="1264" y="662" width="1" height="1" fill="#c0c0c0"/>
<rect x="1272" y="662" width="1" height="9" fill="#c0c0c0"/>
<rect x="1280" y="662" width="1" height="11" fill="#c0c0c0"/>
<rect x="1288" y="662" width="1" height="14" fill="#c0c0c0"/>
<rect x="1296" y="662" width="1" height="24" fill="#c0c0c0"/>
<rect x="1304" y="662" width="1" height="32" fill="#c0c0c0"/>
<rect x="1312" y="662" width="1" height="34" fill="#c0c0c0"/>
<rect x="1320" y="662" width="1" height="36" fill="#c0c0c0"/>
</g>
<polyline points="0.0,682.4 8.0,681.0 16.0,679.4 24.0,677.5 32.0,674.9 40.0,671.0 48.0,665.6 56.0,659.0 64.0,651.8 72.0,645.0 80.0,638.0 88.0,631.5 96.0,624.8 104.0,619.0 112.0,613.5 120.0,609.5 128.0,606.8 136.0,605.5 144.0,606.0 152.0,609.0 160.0,612.5 168.0,617.5 176.0,622.5 184.0,627.5 192.0,632.6 200.0,638.8 208.0,645.0 216.0,650.5 224.0,656.0 232.0,660.2 240.0,664.4 248.0,670.0 256.0,675.6 264.0,680.6 272.0,685.6 280.0,689.5 288.0,693.0 296.0,695.7 304.0,698.0 312.0,699.3 320.0,700.0 328.0,699.5 336.0,698.0 344.0,695.5 352.0,692.0 360.0,686.0 368.0,679.4 376.0,672.0 384.0,664.4 392.0,655.0 400.0,644.3 408.0,634.3 416.0,626.0 424.0,620.0 432.0,612.5 440.0,611.3 448.0,613.5 456.0,618.0 464.0,624.3 472.0,634.3 480.0,646.8 488.0,660.0 496.0,670.6 504.0,679.4 512.0,687.6 520.0,692.4 528.0,693.9 536.0,695.6 544.0,695.6 552.0,695.6 560.0,695.6 568.0,696.0 576.0,698.6 584.0,701.9 592.0,704.9 600.0,708.9 608.0,713.2 616.0,717.7 624.0,721.2 632.0,723.2 640.0,726.9 648.0,730.7 656.0,733.9 664.0,735.2 672.0,735.2 680.0,735.2 688.0,735.0 696.0,733.9 704.0,732.7 712.0,731.2 720.0,727.4 728.0,723.2 736.0,718.2 744.0,712.7 752.0,706.9 760.0,700.6 768.0,693.1 776.0,686.9 784.0,681.1 792.0,675.6 800.0,671.1 808.0,666.9 816.0,663.1 824.0,658.8 832.0,653.1 840.0,648.6 848.0,642.3 856.0,636.8 864.0,631.8 872.0,626.8 880.0,621.3 888.0,617.3 896.0,613.8 904.0,612.5 912.0,612.5 920.0,613.5 928.0,616.3 936.0,619.8 944.0,622.5 952.0,626.3 960.0,630.1 968.0,633.8 976.0,636.3 984.0,639.8 992.0,643.1 1000.0,645.6 1008.0,648.6 1016.0,651.3 1024.0,655.6 1032.0,660.1 1040.0,667.4 1048.0,674.9 1056.0,682.6 1064.0,691.1 1072.0,698.9 1080.0,706.9 1088.0,713.7 1096.0,719.9 1104.0,722.4 1112.0,722.7 1120.0,721.2 1128.0,717.4 1136.0,713.7 1144.0,708.9 1152.0,704.9 1160.0,699.4 1168.0,694.4 1176.0,690.6 1184.0,687.6 1192.0,685.6 1200.0,683.3 1208.0,680.2 1216.0,675.5 1224.0,670.0 1232.0,664.5 1240.0,659.0 1248.0,654.8 1256.0,651.5 1264.0,650.1 1272.0,650.1 1280.0,651.5 1288.0,655.4 1296.0,660.3 1304.0,665.9 1312.0,672.8 1320.0,678.9" fill="none" stroke="#ff0000" stroke-width="1" stroke-dasharray="3 3" shape-rendering="crispEdges"/>
<text x="-4" y="595" font-size="10.3" fill="#000" stroke="#000" stroke-width=".15" textLength="154" lengthAdjust="spacingAndGlyphs">MACD(12,26,9) -0.001723 -0.000814</text>
<g shape-rendering="crispEdges">
<line x1="0" y1="790.5" x2="1611" y2="790.5" stroke="#c0c0c0" stroke-width="1" stroke-dasharray="3 3"/>
<line x1="0" y1="841.5" x2="1611" y2="841.5" stroke="#c0c0c0" stroke-width="1" stroke-dasharray="3 3"/>
<line x1="0" y1="902.5" x2="1611" y2="902.5" stroke="#c0c0c0" stroke-width="1" stroke-dasharray="3 3"/>
</g>
<polyline points="0.0,825.0 8.0,826.3 16.0,830.8 24.0,833.0 32.0,838.0 40.0,829.3 48.0,815.0 56.0,802.0 64.0,806.3 72.0,804.3 80.0,811.3 88.0,807.5 96.0,819.3 104.0,822.0 112.0,823.3 120.0,823.3 128.0,821.8 136.0,820.6 144.0,838.8 152.0,850.0 160.0,845.6 168.0,853.4 176.0,854.6 184.0,842.0 192.0,840.3 200.0,853.4 208.0,856.4 216.0,850.6 224.0,852.0 232.0,863.9 240.0,867.0 248.0,876.4 256.0,863.9 264.0,855.4 272.0,856.4 280.0,860.4 288.0,857.6 296.0,862.0 304.0,850.4 312.0,851.4 320.0,853.0 328.0,859.6 336.0,833.8 344.0,820.6 352.0,827.3 360.0,827.3 368.0,824.3 376.0,815.6 384.0,815.3 392.0,803.3 400.0,800.2 408.0,808.8 416.0,818.8 424.0,824.6 432.0,850.6 440.0,860.9 448.0,864.0 456.0,864.4 464.0,863.0 472.0,873.9 480.0,852.0 488.0,849.0 496.0,846.3 504.0,847.8 512.0,850.3 520.0,845.8 528.0,838.3 536.0,857.0 544.0,856.4 552.0,854.4 560.0,856.4 568.0,857.4 576.0,860.9 584.0,869.0 592.0,870.4 600.0,867.4 608.0,864.4 616.0,865.4 624.0,866.4 632.0,862.4 640.0,875.4 648.0,874.0 656.0,870.6 664.0,875.0 672.0,854.4 680.0,854.4 688.0,856.4 696.0,856.4 704.0,855.0 712.0,858.9 720.0,848.0 728.0,840.8 736.0,834.3 744.0,837.3 752.0,836.0 760.0,833.3 768.0,826.6 776.0,830.8 784.0,839.0 792.0,840.3 800.0,840.8 808.0,830.3 816.0,827.6 824.0,805.3 832.0,806.5 840.0,811.0 848.0,813.0 856.0,809.3 864.0,823.3 872.0,831.0 880.0,825.0 888.0,819.3 896.0,822.6 904.0,827.3 912.0,836.3 920.0,840.8 928.0,844.3 936.0,841.3 944.0,842.3 952.0,845.0 960.0,826.0 968.0,828.3 976.0,846.0 984.0,846.3 992.0,846.0 1000.0,842.3 1008.0,851.4 1016.0,864.0 1024.0,873.0 1032.0,870.0 1040.0,874.0 1048.0,877.6 1056.0,883.0 1064.0,878.6 1072.0,877.0 1080.0,877.0 1088.0,868.4 1096.0,870.4 1104.0,840.3 1112.0,835.3 1120.0,831.0 1128.0,840.3 1136.0,847.3 1144.0,844.0 1152.0,857.4 1160.0,849.3 1168.0,852.4 1176.0,848.3 1184.0,842.3 1192.0,836.0 1200.0,832.2 1208.0,817.2 1216.0,824.3 1224.0,823.0 1232.0,826.8 1240.0,830.4 1248.0,850.6 1256.0,855.0 1264.0,857.5 1272.0,859.4 1280.0,851.1 1288.0,851.4 1296.0,867.4 1304.0,866.3 1312.0,856.4 1320.0,859.4" fill="none" stroke="#1e90ff" stroke-width="1" shape-rendering="crispEdges"/>
<text x="-4" y="767" font-size="10.3" fill="#000" stroke="#000" stroke-width=".15" textLength="68" lengthAdjust="spacingAndGlyphs">RSI(14) 39.9024</text>
<rect x="1612" y="49" width="2" height="1" fill="#000" shape-rendering="crispEdges"/>
<text transform="translate(1617.5,53.0) scale(.905,1)" font-size="9.8" fill="#000" stroke="#000" stroke-width=".3">1.32065</text>
<rect x="1612" y="82" width="2" height="1" fill="#000" shape-rendering="crispEdges"/>
<text transform="translate(1617.5,86.0) scale(.905,1)" font-size="9.8" fill="#000" stroke="#000" stroke-width=".3">1.31840</text>
<rect x="1612" y="115" width="2" height="1" fill="#000" shape-rendering="crispEdges"/>
<text transform="translate(1617.5,119.0) scale(.905,1)" font-size="9.8" fill="#000" stroke="#000" stroke-width=".3">1.31610</text>
<rect x="1612" y="148" width="2" height="1" fill="#000" shape-rendering="crispEdges"/>
<text transform="translate(1617.5,152.0) scale(.905,1)" font-size="9.8" fill="#000" stroke="#000" stroke-width=".3">1.31380</text>
<rect x="1612" y="181" width="2" height="1" fill="#000" shape-rendering="crispEdges"/>
<text transform="translate(1617.5,185.0) scale(.905,1)" font-size="9.8" fill="#000" stroke="#000" stroke-width=".3">1.31150</text>
<rect x="1612" y="214" width="2" height="1" fill="#000" shape-rendering="crispEdges"/>
<text transform="translate(1617.5,218.0) scale(.905,1)" font-size="9.8" fill="#000" stroke="#000" stroke-width=".3">1.30925</text>
<rect x="1612" y="247" width="2" height="1" fill="#000" shape-rendering="crispEdges"/>
<text transform="translate(1617.5,251.0) scale(.905,1)" font-size="9.8" fill="#000" stroke="#000" stroke-width=".3">1.30695</text>
<rect x="1612" y="280" width="2" height="1" fill="#000" shape-rendering="crispEdges"/>
<text transform="translate(1617.5,284.0) scale(.905,1)" font-size="9.8" fill="#000" stroke="#000" stroke-width=".3">1.30465</text>
<rect x="1612" y="313" width="2" height="1" fill="#000" shape-rendering="crispEdges"/>
<text transform="translate(1617.5,317.0) scale(.905,1)" font-size="9.8" fill="#000" stroke="#000" stroke-width=".3">1.30235</text>
<rect x="1612" y="346" width="2" height="1" fill="#000" shape-rendering="crispEdges"/>
<text transform="translate(1617.5,350.0) scale(.905,1)" font-size="9.8" fill="#000" stroke="#000" stroke-width=".3">1.30010</text>
<rect x="1612" y="379" width="2" height="1" fill="#000" shape-rendering="crispEdges"/>
<text transform="translate(1617.5,383.0) scale(.905,1)" font-size="9.8" fill="#000" stroke="#000" stroke-width=".3">1.29780</text>
<rect x="1612" y="412" width="2" height="1" fill="#000" shape-rendering="crispEdges"/>
<text transform="translate(1617.5,416.0) scale(.905,1)" font-size="9.8" fill="#000" stroke="#000" stroke-width=".3">1.29550</text>
<rect x="1612" y="478" width="2" height="1" fill="#000" shape-rendering="crispEdges"/>
<text transform="translate(1617.5,482.0) scale(.905,1)" font-size="9.8" fill="#000" stroke="#000" stroke-width=".3">1.29095</text>
<rect x="1612" y="511" width="2" height="1" fill="#000" shape-rendering="crispEdges"/>
<text transform="translate(1617.5,515.0) scale(.905,1)" font-size="9.8" fill="#000" stroke="#000" stroke-width=".3">1.28865</text>
<rect x="1612" y="577" width="2" height="1" fill="#000" shape-rendering="crispEdges"/>
<text transform="translate(1617.5,581.0) scale(.905,1)" font-size="9.8" fill="#000" stroke="#000" stroke-width=".3">1.28405</text>
<rect x="1613" y="438" width="41" height="11" fill="#ff4500" shape-rendering="crispEdges"/>
<text transform="translate(1617.5,447) scale(.905,1)" font-size="9.8" fill="#fff" stroke="#fff" stroke-width=".3">1.29331</text>
<rect x="1606.5" y="442.5" width="4" height="4" fill="#fff" stroke="#ff4500" shape-rendering="crispEdges"/>
<rect x="1613" y="469" width="41" height="11" fill="#ff0000" shape-rendering="crispEdges"/>
<text transform="translate(1617.5,478) scale(.905,1)" font-size="9.8" fill="#fff" stroke="#fff" stroke-width=".3">1.29117</text>
<rect x="1606.5" y="473.5" width="4" height="4" fill="#fff" stroke="#ff0000" shape-rendering="crispEdges"/>
<rect x="1613" y="490" width="41" height="11" fill="#32cd32" shape-rendering="crispEdges"/>
<text transform="translate(1617.5,499) scale(.905,1)" font-size="9.8" fill="#fff" stroke="#fff" stroke-width=".3">1.28971</text>
<rect x="1606.5" y="494.5" width="4" height="4" fill="#fff" stroke="#32cd32" shape-rendering="crispEdges"/>
<rect x="1613" y="510" width="41" height="11" fill="#000000" shape-rendering="crispEdges"/>
<text transform="translate(1617.5,519) scale(.905,1)" font-size="9.8" fill="#fff" stroke="#fff" stroke-width=".3">1.28838</text>
<rect x="1613" y="538" width="41" height="11" fill="#0000ff" shape-rendering="crispEdges"/>
<text transform="translate(1617.5,547) scale(.905,1)" font-size="9.8" fill="#fff" stroke="#fff" stroke-width=".3">1.28639</text>
<rect x="1606.5" y="542.5" width="4" height="4" fill="#fff" stroke="#0000ff" shape-rendering="crispEdges"/>
<rect x="1613" y="561" width="41" height="11" fill="#0000ff" shape-rendering="crispEdges"/>
<text transform="translate(1617.5,570) scale(.905,1)" font-size="9.8" fill="#fff" stroke="#fff" stroke-width=".3">1.28480</text>
<rect x="1606.5" y="565.5" width="4" height="4" fill="#fff" stroke="#0000ff" shape-rendering="crispEdges"/>
<text transform="translate(1615.2,593.0) scale(.905,1)" font-size="9.8" fill="#000" stroke="#000" stroke-width=".3">0.003667</text>
<rect x="1612" y="584" width="2" height="1" fill="#000" shape-rendering="crispEdges"/>
<rect x="1612" y="662" width="2" height="1" fill="#000" shape-rendering="crispEdges"/>
<text transform="translate(1615.2,666.0) scale(.905,1)" font-size="9.8" fill="#000" stroke="#000" stroke-width=".3">0.00</text>
<text transform="translate(1615.2,749.0) scale(.905,1)" font-size="9.8" fill="#000" stroke="#000" stroke-width=".3">-0.00422</text>
<rect x="1612" y="751" width="2" height="1" fill="#000" shape-rendering="crispEdges"/>
<rect x="1612" y="755" width="2" height="1" fill="#000" shape-rendering="crispEdges"/>
<rect x="1612" y="927" width="2" height="1" fill="#000" shape-rendering="crispEdges"/>
<text transform="translate(1615.2,765.0) scale(.905,1)" font-size="9.8" fill="#000" stroke="#000" stroke-width=".3">100</text>
<rect x="1612" y="790" width="2" height="1" fill="#000" shape-rendering="crispEdges"/>
<text transform="translate(1615.2,794.0) scale(.905,1)" font-size="9.8" fill="#000" stroke="#000" stroke-width=".3">80</text>
<rect x="1612" y="841" width="2" height="1" fill="#000" shape-rendering="crispEdges"/>
<text transform="translate(1615.2,845.0) scale(.905,1)" font-size="9.8" fill="#000" stroke="#000" stroke-width=".3">50</text>
<rect x="1612" y="903" width="2" height="1" fill="#000" shape-rendering="crispEdges"/>
<text transform="translate(1615.2,906.5) scale(.905,1)" font-size="9.8" fill="#000" stroke="#000" stroke-width=".3">15</text>
<text transform="translate(1615.2,925.0) scale(.905,1)" font-size="9.8" fill="#000" stroke="#000" stroke-width=".3">0</text>
<text transform="translate(-9.5,941) scale(.935,1)" font-size="9.8" fill="#000" stroke="#000" stroke-width=".3">21 Jan 2020</text>
<rect x="56" y="929" width="1" height="3" fill="#000" shape-rendering="crispEdges"/>
<text transform="translate(55.2,941) scale(.935,1)" font-size="9.8" fill="#000" stroke="#000" stroke-width=".3">22 Jan 12:00</text>
<rect x="120" y="929" width="1" height="3" fill="#000" shape-rendering="crispEdges"/>
<text transform="translate(119.2,941) scale(.935,1)" font-size="9.8" fill="#000" stroke="#000" stroke-width=".3">23 Jan 20:00</text>
<rect x="184" y="929" width="1" height="3" fill="#000" shape-rendering="crispEdges"/>
<text transform="translate(183.2,941) scale(.935,1)" font-size="9.8" fill="#000" stroke="#000" stroke-width=".3">27 Jan 04:00</text>
<rect x="248" y="929" width="1" height="3" fill="#000" shape-rendering="crispEdges"/>
<text transform="translate(247.2,941) scale(.935,1)" font-size="9.8" fill="#000" stroke="#000" stroke-width=".3">28 Jan 12:00</text>
<rect x="312" y="929" width="1" height="3" fill="#000" shape-rendering="crispEdges"/>
<text transform="translate(311.2,941) scale(.935,1)" font-size="9.8" fill="#000" stroke="#000" stroke-width=".3">29 Jan 20:00</text>
<rect x="376" y="929" width="1" height="3" fill="#000" shape-rendering="crispEdges"/>
<text transform="translate(375.2,941) scale(.935,1)" font-size="9.8" fill="#000" stroke="#000" stroke-width=".3">31 Jan 04:00</text>
<rect x="440" y="929" width="1" height="3" fill="#000" shape-rendering="crispEdges"/>
<text transform="translate(439.2,941) scale(.935,1)" font-size="9.8" fill="#000" stroke="#000" stroke-width=".3">3 Feb 12:00</text>
<rect x="504" y="929" width="1" height="3" fill="#000" shape-rendering="crispEdges"/>
<text transform="translate(503.2,941) scale(.935,1)" font-size="9.8" fill="#000" stroke="#000" stroke-width=".3">4 Feb 20:00</text>
<rect x="568" y="929" width="1" height="3" fill="#000" shape-rendering="crispEdges"/>
<text transform="translate(567.2,941) scale(.935,1)" font-size="9.8" fill="#000" stroke="#000" stroke-width=".3">6 Feb 04:00</text>
<rect x="632" y="929" width="1" height="3" fill="#000" shape-rendering="crispEdges"/>
<text transform="translate(631.2,941) scale(.935,1)" font-size="9.8" fill="#000" stroke="#000" stroke-width=".3">7 Feb 12:00</text>
<rect x="696" y="929" width="1" height="3" fill="#000" shape-rendering="crispEdges"/>
<text transform="translate(695.2,941) scale(.935,1)" font-size="9.8" fill="#000" stroke="#000" stroke-width=".3">10 Feb 20:00</text>
<rect x="760" y="929" width="1" height="3" fill="#000" shape-rendering="crispEdges"/>
<text transform="translate(759.2,941) scale(.935,1)" font-size="9.8" fill="#000" stroke="#000" stroke-width=".3">12 Feb 04:00</text>
<rect x="824" y="929" width="1" height="3" fill="#000" shape-rendering="crispEdges"/>
<text transform="translate(823.2,941) scale(.935,1)" font-size="9.8" fill="#000" stroke="#000" stroke-width=".3">13 Feb 12:00</text>
<rect x="888" y="929" width="1" height="3" fill="#000" shape-rendering="crispEdges"/>
<text transform="translate(887.2,941) scale(.935,1)" font-size="9.8" fill="#000" stroke="#000" stroke-width=".3">16 Feb 23:00</text>
<rect x="952" y="929" width="1" height="3" fill="#000" shape-rendering="crispEdges"/>
<text transform="translate(951.2,941) scale(.935,1)" font-size="9.8" fill="#000" stroke="#000" stroke-width=".3">18 Feb 04:00</text>
<rect x="1016" y="929" width="1" height="3" fill="#000" shape-rendering="crispEdges"/>
<text transform="translate(1015.2,941) scale(.935,1)" font-size="9.8" fill="#000" stroke="#000" stroke-width=".3">19 Feb 12:00</text>
<rect x="1080" y="929" width="1" height="3" fill="#000" shape-rendering="crispEdges"/>
<text transform="translate(1079.2,941) scale(.935,1)" font-size="9.8" fill="#000" stroke="#000" stroke-width=".3">20 Feb 20:00</text>
<rect x="1144" y="929" width="1" height="3" fill="#000" shape-rendering="crispEdges"/>
<text transform="translate(1143.2,941) scale(.935,1)" font-size="9.8" fill="#000" stroke="#000" stroke-width=".3">24 Feb 04:00</text>
<rect x="1208" y="929" width="1" height="3" fill="#000" shape-rendering="crispEdges"/>
<text transform="translate(1207.2,941) scale(.935,1)" font-size="9.8" fill="#000" stroke="#000" stroke-width=".3">25 Feb 12:00</text>
<rect x="1272" y="929" width="1" height="3" fill="#000" shape-rendering="crispEdges"/>
<text transform="translate(1271.2,941) scale(.935,1)" font-size="9.8" fill="#000" stroke="#000" stroke-width=".3">26 Feb 20:00</text>
</svg>
<div id="trade">
<div style="left:0;top:0;width:214px;height:64px;background:#fff;"></div>
<div class="rb" style="left:0;top:0;width:47px;height:24px;border-top:1px solid #cf2c2c;border-right:1px solid #c62222;line-height:22px;"><span style="display:inline-block;transform:scaleX(.84);transform-origin:50% 50%;margin-left:-5px;">SELL</span></div>
<div style="left:0;top:23px;width:43px;height:1px;background:#900c0c;"></div>
<div class="rb" style="left:162px;top:0;width:52px;height:24px;border-top:1px solid #cf2c2c;border-left:1px solid #c62222;border-right:1px solid #c62222;line-height:22px;"><span style="display:inline-block;transform:scaleX(.89);">BUY</span></div>
<div style="left:166px;top:23px;width:44px;height:1px;background:#900c0c;"></div>
<div style="left:49px;top:0px;width:111px;height:22px;background:#fff;border:1px solid #adb1b9;"></div>
<div style="left:50px;top:1px;width:20px;height:20px;background:linear-gradient(#f4f4f4,#e4e4e4 45%,#d0d0d0 55%,#d8d8d8);border:1px solid #e8e8e8;border-right:1px solid #b4b8c0;"><svg width="18" height="18" style="position:absolute;left:0;top:0"><path d="M6.3,7 L11.7,7 L9,10 Z" fill="#4a62c4"/></svg></div>
<div style="left:139px;top:1px;width:20px;height:20px;background:linear-gradient(#f4f4f4,#e4e4e4 45%,#d0d0d0 55%,#d8d8d8);border:1px solid #e8e8e8;border-left:1px solid #b4b8c0;"><svg width="18" height="18" style="position:absolute;left:0;top:0"><path d="M6.3,10 L11.7,10 L9,7 Z" fill="#4a62c4"/></svg></div>
<div style="left:70px;top:1px;width:65px;height:20px;font-size:12.2px;line-height:20px;text-align:right;color:#000;">1.00</div>
<div class="pp" style="left:0;top:24px;width:104px;height:40px;border-right:1px solid #b01010;"><div style="left:0;top:0;width:43px;height:1px;background:#ea5a5a;"></div><span style="left:14.5px;top:20.5px;font-size:12.5px;font-weight:bold;line-height:12px;">1.28</span><span class="big" style="left:42px;top:-8.5px;">83</span><span style="left:81.5px;top:5px;font-size:12.5px;font-weight:bold;line-height:12px;">8</span></div>
<div class="pp" style="left:106px;top:24px;width:108px;height:40px;border-left:1px solid #c01c1c;border-right:1px solid #b01010;"><div style="left:59px;top:0;width:44px;height:1px;background:#ea5a5a;"></div><span style="left:18px;top:20.5px;font-size:12.5px;font-weight:bold;line-height:12px;">1.28</span><span class="big" style="left:45.5px;top:-8.5px;">91</span><span style="left:86px;top:5px;font-size:12.5px;font-weight:bold;line-height:12px;">7</span></div>
</div>

</body></html>
